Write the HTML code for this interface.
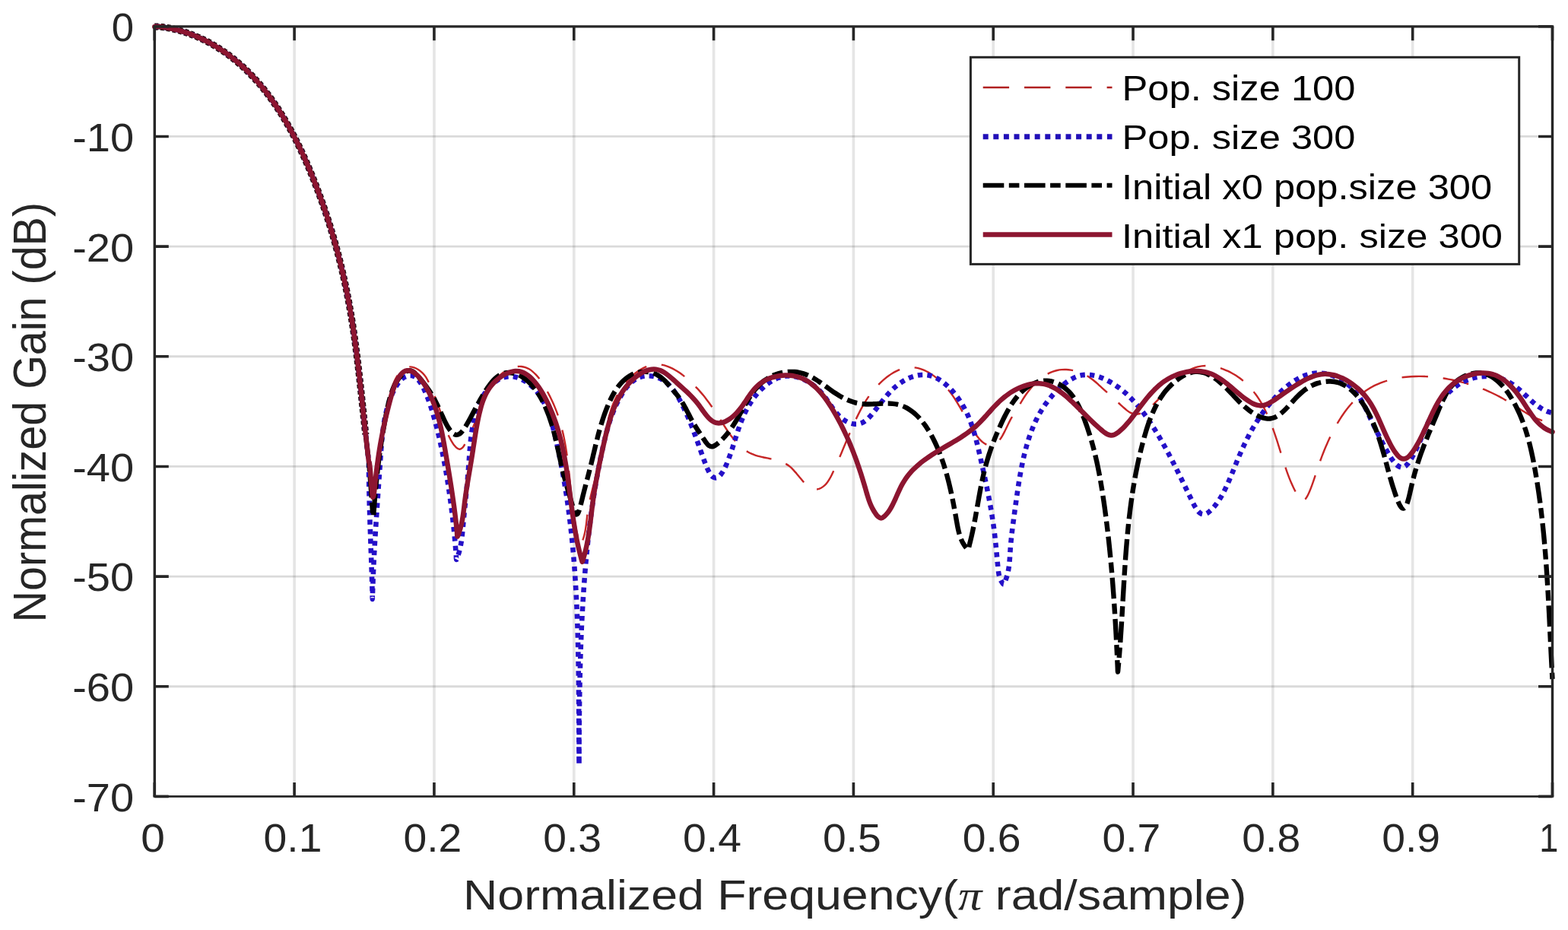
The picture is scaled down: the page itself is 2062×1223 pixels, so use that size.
<!DOCTYPE html>
<html><head><meta charset="utf-8"><title>Normalized Gain</title>
<style>html,body{margin:0;padding:0;background:#fff;} svg{display:block;}</style>
</head><body>
<svg width="2062" height="1223" viewBox="0 0 2062 1223" font-family="Liberation Sans, sans-serif" font-size="100">
<rect width="2062" height="1223" fill="#fff"/>
<path d="M387.12 34.80V1047.40M570.94 34.80V1047.40M754.76 34.80V1047.40M938.58 34.80V1047.40M1122.40 34.80V1047.40M1306.22 34.80V1047.40M1490.04 34.80V1047.40M1673.86 34.80V1047.40M1857.68 34.80V1047.40" stroke="#262626" stroke-opacity="0.12" stroke-width="3.6" fill="none"/>
<path d="M203.30 179.46H2041.50M203.30 324.11H2041.50M203.30 468.77H2041.50M203.30 613.43H2041.50M203.30 758.09H2041.50M203.30 902.74H2041.50" stroke="#262626" stroke-opacity="0.17" stroke-width="2.8" fill="none"/>
<g fill="none" stroke-linejoin="round">
<path d="M203.30 35.20C205.22 35.14 207.11 34.93 209.06 35.02C211.07 35.11 213.15 35.49 215.18 35.78C217.21 36.07 219.23 36.40 221.24 36.77C223.25 37.14 225.24 37.54 227.23 37.98C229.22 38.42 231.19 38.89 233.16 39.40C235.12 39.91 237.07 40.45 239.01 41.02C240.95 41.59 242.88 42.20 244.79 42.84C246.70 43.48 248.60 44.15 250.49 44.85C252.38 45.55 254.25 46.29 256.11 47.05C257.97 47.81 259.82 48.61 261.66 49.43C263.49 50.25 265.31 51.09 267.12 51.97C268.92 52.84 270.71 53.75 272.49 54.68C274.27 55.61 276.03 56.57 277.78 57.55C279.53 58.53 281.26 59.54 282.98 60.57C284.70 61.60 286.39 62.66 288.08 63.74C289.76 64.82 291.44 65.92 293.09 67.04C294.74 68.16 296.38 69.30 298.00 70.47C299.62 71.64 301.22 72.83 302.81 74.04C304.40 75.25 305.97 76.47 307.52 77.71C309.07 78.95 310.61 80.22 312.13 81.50C313.65 82.78 315.14 84.08 316.62 85.40C318.10 86.72 319.57 88.05 321.02 89.40C322.47 90.75 323.89 92.12 325.31 93.51C326.72 94.89 328.13 96.29 329.51 97.71C330.89 99.12 332.26 100.55 333.61 102.00C334.96 103.44 336.29 104.90 337.61 106.38C338.93 107.86 340.23 109.35 341.52 110.86C342.81 112.36 344.07 113.88 345.33 115.41C346.59 116.94 347.83 118.49 349.06 120.05C350.29 121.61 351.50 123.19 352.70 124.77C353.90 126.36 355.09 127.95 356.26 129.56C357.43 131.17 358.59 132.80 359.73 134.43C360.87 136.06 362.00 137.71 363.12 139.36C364.24 141.02 365.34 142.68 366.43 144.36C367.52 146.04 368.60 147.72 369.66 149.42C370.73 151.12 371.78 152.83 372.82 154.55C373.86 156.27 374.89 157.99 375.91 159.72C376.93 161.45 377.93 163.20 378.92 164.95C379.91 166.70 380.89 168.47 381.86 170.24C382.83 172.01 383.79 173.79 384.74 175.57C385.69 177.35 386.62 179.14 387.55 180.94C388.48 182.74 389.39 184.54 390.30 186.35C391.21 188.16 392.11 189.98 392.99 191.80C393.88 193.62 394.74 195.46 395.61 197.29C396.47 199.12 397.33 200.96 398.18 202.80C399.03 204.64 399.87 206.50 400.70 208.35C401.53 210.20 402.35 212.05 403.16 213.91C403.97 215.77 404.77 217.63 405.57 219.50C406.36 221.37 407.15 223.24 407.93 225.11C408.71 226.98 409.48 228.86 410.24 230.74C411.00 232.62 411.76 234.50 412.51 236.38C413.26 238.26 414.00 240.14 414.73 242.02C415.46 243.90 416.19 245.79 416.91 247.68C417.63 249.57 418.34 251.46 419.05 253.35C419.75 255.24 420.45 257.13 421.14 259.03C421.83 260.92 422.51 262.82 423.19 264.72C423.87 266.62 424.54 268.52 425.20 270.42C425.86 272.32 426.51 274.23 427.16 276.13C427.81 278.03 428.45 279.93 429.08 281.84C429.71 283.75 430.33 285.66 430.95 287.57C431.57 289.48 432.18 291.39 432.79 293.31C433.39 295.22 433.99 297.14 434.58 299.06C435.17 300.98 435.75 302.89 436.33 304.81C436.91 306.73 437.48 308.66 438.04 310.58C438.60 312.50 439.15 314.42 439.70 316.35C440.25 318.28 440.79 320.21 441.33 322.14C441.86 324.07 442.39 326.00 442.91 327.93C443.43 329.86 443.95 331.79 444.46 333.73C444.97 335.66 445.47 337.60 445.96 339.54C446.45 341.48 446.94 343.41 447.42 345.35C447.90 347.29 448.37 349.24 448.84 351.18C449.31 353.12 449.77 355.06 450.23 357.01C450.68 358.95 451.13 360.90 451.57 362.85C452.01 364.80 452.44 366.75 452.87 368.70C453.30 370.65 453.72 372.60 454.13 374.55C454.55 376.50 454.96 378.46 455.36 380.42C455.76 382.38 456.15 384.33 456.54 386.29C456.93 388.25 457.31 390.21 457.69 392.17C458.06 394.13 458.43 396.09 458.79 398.05C459.15 400.01 459.51 401.98 459.86 403.94C460.21 405.91 460.56 407.87 460.90 409.84C461.24 411.81 461.56 413.78 461.89 415.75C462.22 417.72 462.54 419.69 462.86 421.66C463.18 423.63 463.48 425.61 463.79 427.58C464.09 429.55 464.40 431.53 464.69 433.50C464.99 435.48 465.28 437.45 465.56 439.43C465.85 441.41 466.12 443.39 466.40 445.37C466.68 447.35 466.95 449.33 467.22 451.31C467.49 453.29 467.76 455.28 468.02 457.26C468.28 459.24 468.54 461.23 468.79 463.21C469.05 465.20 469.30 467.18 469.55 469.17C469.80 471.16 470.04 473.14 470.28 475.13C470.52 477.12 470.76 479.11 471.00 481.10C471.24 483.09 471.47 485.08 471.70 487.07C471.93 489.06 472.16 491.06 472.39 493.05C472.62 495.05 472.84 497.04 473.06 499.04C473.28 501.03 473.51 503.02 473.73 505.02C473.95 507.02 474.17 509.02 474.39 511.02C474.61 513.02 474.83 515.01 475.04 517.01C475.26 519.01 475.47 521.01 475.68 523.01C475.89 525.01 476.11 527.02 476.32 529.02C476.53 531.02 476.75 533.03 476.96 535.03C477.17 537.03 477.39 539.04 477.60 541.04C477.81 543.05 478.02 545.05 478.23 547.06C478.44 549.06 478.67 551.06 478.88 553.07C479.10 555.08 479.30 557.09 479.52 559.10C479.73 561.11 479.95 563.11 480.17 565.12C480.39 567.13 480.61 569.14 480.83 571.15" stroke="#2a0d14" stroke-width="9.2" stroke-dasharray="5 3"/>
<path d="M203.30 35.20C205.22 35.14 207.11 34.93 209.06 35.02C211.07 35.11 213.15 35.49 215.18 35.78C217.21 36.07 219.23 36.40 221.24 36.77C223.25 37.14 225.24 37.54 227.23 37.98C229.22 38.42 231.19 38.89 233.16 39.40C235.12 39.91 237.07 40.45 239.01 41.02C240.95 41.59 242.88 42.20 244.79 42.84C246.70 43.48 248.60 44.15 250.49 44.85C252.38 45.55 254.25 46.29 256.11 47.05C257.97 47.81 259.82 48.61 261.66 49.43C263.49 50.25 265.31 51.09 267.12 51.97C268.92 52.84 270.71 53.75 272.49 54.68C274.27 55.61 276.03 56.57 277.78 57.55C279.53 58.53 281.26 59.54 282.98 60.57C284.70 61.60 286.39 62.66 288.08 63.74C289.76 64.82 291.44 65.92 293.09 67.04C294.74 68.16 296.38 69.30 298.00 70.47C299.62 71.64 301.22 72.83 302.81 74.04C304.40 75.25 305.97 76.47 307.52 77.71C309.07 78.95 310.61 80.22 312.13 81.50C313.65 82.78 315.14 84.08 316.62 85.40C318.10 86.72 319.57 88.05 321.02 89.40C322.47 90.75 323.89 92.12 325.31 93.51C326.72 94.89 328.13 96.29 329.51 97.71C330.89 99.12 332.26 100.55 333.61 102.00C334.96 103.44 336.29 104.90 337.61 106.38C338.93 107.86 340.23 109.35 341.52 110.86C342.81 112.36 344.07 113.88 345.33 115.41C346.59 116.94 347.83 118.49 349.06 120.05C350.29 121.61 351.50 123.19 352.70 124.77C353.90 126.36 355.09 127.95 356.26 129.56C357.43 131.17 358.59 132.80 359.73 134.43C360.87 136.06 362.00 137.71 363.12 139.36C364.24 141.02 365.34 142.68 366.43 144.36C367.52 146.04 368.60 147.72 369.66 149.42C370.73 151.12 371.78 152.83 372.82 154.55C373.86 156.27 374.89 157.99 375.91 159.72C376.93 161.45 377.93 163.20 378.92 164.95C379.91 166.70 380.89 168.47 381.86 170.24C382.83 172.01 383.79 173.79 384.74 175.57C385.69 177.35 386.62 179.14 387.55 180.94C388.48 182.74 389.39 184.54 390.30 186.35C391.21 188.16 392.11 189.98 392.99 191.80C393.88 193.62 394.74 195.46 395.61 197.29C396.47 199.12 397.33 200.96 398.18 202.80C399.03 204.64 399.87 206.50 400.70 208.35C401.53 210.20 402.35 212.05 403.16 213.91C403.97 215.77 404.77 217.63 405.57 219.50C406.36 221.37 407.15 223.24 407.93 225.11C408.71 226.98 409.48 228.86 410.24 230.74C411.00 232.62 411.76 234.50 412.51 236.38C413.26 238.26 414.00 240.14 414.73 242.02C415.46 243.90 416.19 245.79 416.91 247.68C417.63 249.57 418.34 251.46 419.05 253.35C419.75 255.24 420.45 257.13 421.14 259.03C421.83 260.92 422.51 262.82 423.19 264.72C423.87 266.62 424.54 268.52 425.20 270.42C425.86 272.32 426.51 274.23 427.16 276.13C427.81 278.03 428.45 279.93 429.08 281.84C429.71 283.75 430.33 285.66 430.95 287.57C431.57 289.48 432.18 291.39 432.79 293.31C433.39 295.22 433.99 297.14 434.58 299.06C435.17 300.98 435.75 302.89 436.33 304.81C436.91 306.73 437.48 308.66 438.04 310.58C438.60 312.50 439.15 314.42 439.70 316.35C440.25 318.28 440.79 320.21 441.33 322.14C441.86 324.07 442.39 326.00 442.91 327.93C443.43 329.86 443.95 331.79 444.46 333.73C444.97 335.66 445.47 337.60 445.96 339.54C446.45 341.48 446.94 343.41 447.42 345.35C447.90 347.29 448.37 349.24 448.84 351.18C449.31 353.12 449.77 355.06 450.23 357.01C450.68 358.95 451.13 360.90 451.57 362.85C452.01 364.80 452.44 366.75 452.87 368.70C453.30 370.65 453.72 372.60 454.13 374.55C454.55 376.50 454.96 378.46 455.36 380.42C455.76 382.38 456.15 384.33 456.54 386.29C456.93 388.25 457.31 390.21 457.69 392.17C458.06 394.13 458.43 396.09 458.79 398.05C459.15 400.01 459.51 401.98 459.86 403.94C460.21 405.91 460.56 407.87 460.90 409.84C461.24 411.81 461.56 413.78 461.89 415.75C462.22 417.72 462.54 419.69 462.86 421.66C463.18 423.63 463.48 425.61 463.79 427.58C464.09 429.55 464.40 431.53 464.69 433.50C464.99 435.48 465.28 437.45 465.56 439.43C465.85 441.41 466.12 443.39 466.40 445.37C466.68 447.35 466.95 449.33 467.22 451.31C467.49 453.29 467.76 455.28 468.02 457.26C468.28 459.24 468.54 461.23 468.79 463.21C469.05 465.20 469.30 467.18 469.55 469.17C469.80 471.16 470.04 473.14 470.28 475.13C470.52 477.12 470.76 479.11 471.00 481.10C471.24 483.09 471.47 485.08 471.70 487.07C471.93 489.06 472.16 491.06 472.39 493.05C472.62 495.05 472.84 497.04 473.06 499.04C473.28 501.03 473.51 503.02 473.73 505.02C473.95 507.02 474.17 509.02 474.39 511.02C474.61 513.02 474.83 515.01 475.04 517.01C475.26 519.01 475.47 521.01 475.68 523.01C475.89 525.01 476.11 527.02 476.32 529.02C476.53 531.02 476.75 533.03 476.96 535.03C477.17 537.03 477.39 539.04 477.60 541.04C477.81 543.05 478.02 545.05 478.23 547.06C478.44 549.06 478.67 551.06 478.88 553.07C479.10 555.08 479.30 557.09 479.52 559.10C479.73 561.11 479.95 563.11 480.17 565.12C480.39 567.13 480.61 569.14 480.83 571.15C481.05 573.16 481.28 575.17 481.50 577.18C481.73 579.19 481.95 581.21 482.18 583.22C482.41 585.23 482.65 587.25 482.88 589.26C483.11 591.27 483.34 593.29 483.58 595.30C483.82 597.31 484.07 599.36 484.31 601.34C484.54 603.26 484.74 606.98 485.00 607.00C485.17 607.01 485.37 604.78 485.54 604.79C485.74 604.80 485.94 606.68 486.11 607.95C486.36 609.82 486.51 612.46 486.70 614.97C486.92 617.86 487.11 621.14 487.32 624.32C487.53 627.63 487.74 631.15 487.96 634.47C488.17 637.67 488.38 640.98 488.62 643.91C488.83 646.47 489.02 649.15 489.31 651.11C489.52 652.47 489.72 654.51 490.02 654.55C490.23 654.58 490.55 653.68 490.76 653.00C491.12 651.83 491.27 649.79 491.51 648.05C491.78 646.13 492.03 644.04 492.29 641.97C492.56 639.82 492.82 637.58 493.09 635.38C493.36 633.16 493.63 630.91 493.91 628.70C494.18 626.53 494.46 624.37 494.75 622.23C495.03 620.12 495.32 618.03 495.61 615.96C495.90 613.92 496.19 611.89 496.49 609.88C496.79 607.89 497.09 605.91 497.39 603.94C497.69 601.99 498.00 600.05 498.31 598.12C498.62 596.20 498.93 594.29 499.25 592.39C499.56 590.50 499.88 588.61 500.20 586.73C500.52 584.85 500.85 582.98 501.18 581.10C501.51 579.22 501.84 577.35 502.17 575.47C502.50 573.59 502.84 571.71 503.18 569.82C503.52 567.92 503.86 566.03 504.20 564.12C504.55 562.20 504.90 560.27 505.25 558.33C505.60 556.37 505.95 554.41 506.30 552.43C506.66 550.43 507.02 548.42 507.38 546.39C507.74 544.33 508.10 542.26 508.47 540.18C508.84 538.08 509.21 535.98 509.61 533.87C510.01 531.75 510.41 529.62 510.85 527.51C511.29 525.40 511.74 523.29 512.24 521.21C512.73 519.14 513.25 517.07 513.82 515.04C514.38 513.03 514.98 511.04 515.64 509.09C516.29 507.17 516.98 505.28 517.75 503.44C518.50 501.64 519.30 499.87 520.19 498.18C521.06 496.52 521.99 494.90 523.02 493.38C524.03 491.89 525.10 490.44 526.28 489.13C527.43 487.85 528.66 486.61 530.01 485.62C531.33 484.65 532.76 483.78 534.28 483.23C535.80 482.68 537.45 482.34 539.11 482.34C540.87 482.34 542.76 482.73 544.56 483.33C546.51 483.98 548.50 485.05 550.34 486.22C552.24 487.44 554.12 488.94 555.75 490.55C557.37 492.15 558.82 493.98 560.07 495.85C561.29 497.68 562.22 499.69 563.18 501.64C564.12 503.55 564.92 505.51 565.76 507.43C566.59 509.31 567.39 511.17 568.19 513.03C568.97 514.86 569.75 516.67 570.50 518.48C571.25 520.27 571.98 522.04 572.69 523.82C573.40 525.59 574.09 527.36 574.77 529.14C575.45 530.92 576.10 532.69 576.75 534.48C577.40 536.28 578.03 538.08 578.65 539.90C579.27 541.74 579.87 543.60 580.46 545.47C581.06 547.37 581.63 549.29 582.22 551.21C582.82 553.15 583.41 555.10 584.04 557.04C584.67 559.00 585.30 560.97 585.99 562.92C586.68 564.88 587.40 566.85 588.19 568.78C588.98 570.72 589.81 572.65 590.73 574.54C591.65 576.44 592.63 578.34 593.71 580.16C594.78 581.97 595.91 583.84 597.17 585.41C598.34 586.87 599.57 588.44 600.94 589.34C602.12 590.11 603.52 590.86 604.75 590.74C606.00 590.62 607.28 589.61 608.36 588.58C609.65 587.34 610.66 585.33 611.69 583.51C612.80 581.55 613.76 579.28 614.76 577.20C615.73 575.17 616.68 573.13 617.61 571.15C618.51 569.25 619.39 567.42 620.25 565.57C621.10 563.75 621.92 561.94 622.73 560.12C623.53 558.32 624.29 556.53 625.06 554.73C625.82 552.94 626.57 551.15 627.32 549.36C628.06 547.58 628.79 545.79 629.53 544.01C630.27 542.22 631.00 540.44 631.75 538.65C632.50 536.86 633.26 535.07 634.03 533.28C634.81 531.48 635.60 529.68 636.41 527.88C637.23 526.06 638.06 524.25 638.93 522.43C639.81 520.59 640.71 518.75 641.65 516.92C642.60 515.07 643.58 513.21 644.61 511.39C645.65 509.56 646.72 507.73 647.85 505.96C648.98 504.19 650.15 502.45 651.40 500.78C652.64 499.12 653.93 497.49 655.30 495.97C656.66 494.46 658.09 493.00 659.60 491.67C661.10 490.35 662.68 489.11 664.33 488.01C665.97 486.92 667.69 485.93 669.45 485.11C671.19 484.29 673.01 483.60 674.83 483.08C676.62 482.57 678.46 482.18 680.29 481.99C682.09 481.81 683.93 481.78 685.71 481.96C687.47 482.14 689.23 482.51 690.91 483.07C692.60 483.63 694.24 484.42 695.80 485.32C697.40 486.24 698.93 487.37 700.39 488.57C701.89 489.80 703.32 491.19 704.69 492.63C706.09 494.11 707.43 495.70 708.71 497.34C710.02 499.00 711.26 500.76 712.46 502.54C713.67 504.33 714.83 506.18 715.95 508.04C717.07 509.90 718.15 511.80 719.19 513.69C720.22 515.56 721.22 517.45 722.19 519.33C723.15 521.20 724.07 523.07 724.97 524.94C725.86 526.80 726.72 528.66 727.54 530.53C728.36 532.38 729.14 534.24 729.90 536.11C730.65 537.96 731.38 539.82 732.07 541.69C732.76 543.54 733.42 545.40 734.05 547.27C734.68 549.13 735.29 551.00 735.87 552.88C736.45 554.75 737.00 556.63 737.53 558.51C738.06 560.39 738.56 562.28 739.04 564.17C739.52 566.07 739.98 567.97 740.42 569.88C740.86 571.79 741.27 573.71 741.67 575.63C742.07 577.55 742.44 579.49 742.80 581.42C743.16 583.36 743.51 585.30 743.84 587.25C744.17 589.20 744.48 591.15 744.78 593.11C745.08 595.07 745.37 597.03 745.64 599.00C745.92 600.97 746.18 602.94 746.43 604.92C746.68 606.90 746.93 608.88 747.16 610.86C747.40 612.84 747.62 614.83 747.84 616.82C748.06 618.81 748.28 620.80 748.49 622.79C748.70 624.78 748.91 626.78 749.11 628.78C749.32 630.78 749.52 632.79 749.72 634.79C749.92 636.79 750.13 638.79 750.33 640.79C750.53 642.79 750.73 644.80 750.94 646.80C751.15 648.80 751.35 650.81 751.57 652.81C751.79 654.81 752.01 656.82 752.24 658.82C752.47 660.82 752.70 662.82 752.94 664.82C753.18 666.82 753.44 668.82 753.70 670.82C753.96 672.81 754.23 674.80 754.52 676.79C754.81 678.78 755.11 680.77 755.42 682.76C755.73 684.74 756.06 686.72 756.40 688.70C756.74 690.68 757.10 692.65 757.48 694.62C757.86 696.59 758.25 698.55 758.67 700.51C759.09 702.47 759.52 704.43 759.98 706.38C760.44 708.33 760.92 710.27 761.42 712.21C761.92 714.15 762.31 717.94 763.00 718.00C763.69 718.06 764.80 714.35 765.55 712.49C766.29 710.66 766.92 708.80 767.49 706.93C768.05 705.08 768.52 703.20 768.94 701.32C769.36 699.45 769.70 697.56 770.02 695.67C770.34 693.78 770.59 691.88 770.84 689.98C771.09 688.07 771.30 686.16 771.52 684.24C771.75 682.32 771.95 680.40 772.19 678.47C772.43 676.53 772.67 674.59 772.96 672.65C773.25 670.70 773.57 668.76 773.91 666.81C774.26 664.85 774.63 662.89 775.03 660.93C775.43 658.96 775.86 656.99 776.30 655.02C776.74 653.04 777.21 651.07 777.69 649.09C778.17 647.10 778.66 645.12 779.16 643.13C779.66 641.13 780.18 639.14 780.70 637.14C781.22 635.14 781.75 633.14 782.27 631.14C782.79 629.13 783.32 627.12 783.84 625.11C784.36 623.10 784.88 621.09 785.39 619.07C785.90 617.05 786.40 615.03 786.89 613.01C787.38 610.99 787.85 608.97 788.31 606.94C788.77 604.92 789.20 602.89 789.63 600.86C790.06 598.83 790.47 596.80 790.87 594.77C791.27 592.75 791.66 590.72 792.05 588.70C792.44 586.68 792.82 584.66 793.20 582.65C793.58 580.64 793.96 578.63 794.35 576.62C794.74 574.62 795.12 572.62 795.52 570.63C795.92 568.64 796.32 566.66 796.74 564.68C797.16 562.71 797.59 560.75 798.04 558.80C798.49 556.85 798.95 554.91 799.44 552.98C799.93 551.05 800.43 549.14 800.97 547.23C801.51 545.33 802.07 543.44 802.66 541.57C803.25 539.70 803.86 537.85 804.52 536.01C805.18 534.17 805.87 532.35 806.60 530.55C807.33 528.75 808.10 526.97 808.91 525.21C809.72 523.45 810.58 521.71 811.48 519.99C812.39 518.27 813.34 516.58 814.34 514.91C815.35 513.23 816.41 511.58 817.52 509.96C818.64 508.33 819.80 506.74 821.03 505.18C822.27 503.61 823.56 502.06 824.91 500.56C826.27 499.05 827.68 497.57 829.14 496.16C830.60 494.75 832.11 493.38 833.67 492.09C835.23 490.80 836.84 489.56 838.49 488.41C840.13 487.27 841.81 486.20 843.53 485.24C845.24 484.29 846.99 483.40 848.77 482.65C850.53 481.91 852.34 481.25 854.16 480.74C855.97 480.23 857.82 479.83 859.68 479.59C861.53 479.35 863.41 479.25 865.27 479.30C867.15 479.35 869.04 479.57 870.90 479.92C872.79 480.27 874.67 480.79 876.53 481.40C878.42 482.02 880.29 482.78 882.13 483.61C884.00 484.46 885.84 485.42 887.65 486.45C889.48 487.49 891.28 488.63 893.05 489.82C894.83 491.02 896.58 492.30 898.30 493.61C900.02 494.93 901.71 496.31 903.36 497.71C905.01 499.11 906.62 500.56 908.19 502.02C909.75 503.47 911.27 504.95 912.75 506.43C914.21 507.89 915.64 509.37 917.03 510.86C918.40 512.34 919.74 513.83 921.05 515.34C922.35 516.83 923.62 518.33 924.86 519.85C926.09 521.36 927.30 522.88 928.48 524.41C929.66 525.94 930.80 527.48 931.94 529.03C933.07 530.58 934.19 532.15 935.29 533.72C936.39 535.29 937.47 536.88 938.55 538.47C939.63 540.07 940.70 541.68 941.76 543.30C942.83 544.93 943.88 546.57 944.94 548.22C946.01 549.88 947.07 551.55 948.14 553.23C949.22 554.92 950.30 556.63 951.39 558.33C952.49 560.04 953.58 561.77 954.71 563.47C955.84 565.18 956.98 566.89 958.15 568.57C959.32 570.25 960.51 571.91 961.74 573.54C962.96 575.16 964.21 576.78 965.50 578.33C966.79 579.87 968.11 581.39 969.48 582.84C970.84 584.28 972.25 585.69 973.71 587.01C975.16 588.32 976.65 589.59 978.21 590.76C979.76 591.92 981.37 593.02 983.03 594.01C984.69 595.00 986.42 595.90 988.19 596.69C989.97 597.49 991.83 598.16 993.70 598.77C995.59 599.39 997.53 599.90 999.48 600.39C1001.44 600.89 1003.44 601.30 1005.43 601.73C1007.43 602.16 1009.44 602.54 1011.44 602.96C1013.43 603.38 1015.43 603.79 1017.40 604.27C1019.36 604.75 1021.32 605.23 1023.23 605.82C1025.12 606.40 1027.00 607.03 1028.81 607.79C1030.61 608.54 1032.38 609.37 1034.05 610.35C1035.72 611.33 1037.32 612.46 1038.84 613.69C1040.38 614.94 1041.80 616.35 1043.20 617.80C1044.63 619.28 1045.96 620.88 1047.32 622.48C1048.70 624.11 1050.03 625.82 1051.42 627.49C1052.82 629.19 1054.22 630.94 1055.69 632.59C1057.16 634.24 1058.65 635.93 1060.24 637.38C1061.76 638.78 1063.34 640.18 1065.01 641.18C1066.58 642.12 1068.25 642.94 1069.93 643.31C1071.54 643.66 1073.27 643.68 1074.88 643.43C1076.51 643.18 1078.15 642.56 1079.66 641.79C1081.21 641.00 1082.70 639.90 1084.05 638.70C1085.44 637.47 1086.69 635.99 1087.86 634.47C1089.06 632.91 1090.13 631.18 1091.15 629.43C1092.19 627.65 1093.12 625.75 1094.05 623.87C1094.99 621.98 1095.86 620.03 1096.74 618.11C1097.62 616.20 1098.47 614.28 1099.32 612.37C1100.16 610.47 1101.00 608.57 1101.82 606.68C1102.64 604.79 1103.45 602.91 1104.25 601.03C1105.05 599.16 1105.84 597.29 1106.63 595.42C1107.42 593.56 1108.20 591.70 1108.98 589.84C1109.75 587.99 1110.52 586.14 1111.29 584.30C1112.06 582.46 1112.83 580.63 1113.60 578.80C1114.37 576.97 1115.14 575.15 1115.91 573.33C1116.68 571.51 1117.46 569.69 1118.24 567.88C1119.02 566.07 1119.81 564.27 1120.60 562.47C1121.39 560.67 1122.19 558.86 1123.00 557.07C1123.81 555.28 1124.63 553.49 1125.47 551.71C1126.31 549.93 1127.15 548.15 1128.02 546.38C1128.89 544.61 1129.76 542.84 1130.67 541.09C1131.58 539.34 1132.50 537.60 1133.46 535.88C1134.42 534.15 1135.40 532.44 1136.41 530.74C1137.42 529.04 1138.46 527.35 1139.54 525.69C1140.62 524.02 1141.73 522.37 1142.88 520.75C1144.03 519.12 1145.22 517.51 1146.45 515.93C1147.69 514.34 1148.96 512.77 1150.28 511.24C1151.61 509.70 1152.97 508.18 1154.39 506.70C1155.82 505.21 1157.29 503.75 1158.81 502.33C1160.34 500.90 1161.92 499.50 1163.54 498.16C1165.16 496.82 1166.82 495.52 1168.53 494.30C1170.23 493.08 1171.98 491.91 1173.76 490.84C1175.52 489.78 1177.32 488.78 1179.15 487.90C1180.96 487.03 1182.82 486.23 1184.69 485.57C1186.54 484.92 1188.41 484.35 1190.30 483.95C1192.17 483.55 1194.07 483.27 1195.96 483.15C1197.84 483.03 1199.74 483.08 1201.62 483.25C1203.50 483.42 1205.38 483.75 1207.23 484.19C1209.10 484.63 1210.95 485.22 1212.77 485.89C1214.60 486.57 1216.41 487.37 1218.18 488.25C1219.97 489.14 1221.72 490.13 1223.44 491.18C1225.17 492.24 1226.86 493.39 1228.51 494.60C1230.16 495.81 1231.77 497.10 1233.34 498.43C1234.90 499.76 1236.43 501.14 1237.90 502.56C1239.37 503.97 1240.79 505.43 1242.16 506.91C1243.52 508.38 1244.83 509.89 1246.10 511.42C1247.37 512.94 1248.58 514.50 1249.77 516.08C1250.96 517.66 1252.10 519.26 1253.22 520.88C1254.34 522.50 1255.41 524.14 1256.47 525.80C1257.53 527.46 1258.57 529.14 1259.59 530.83C1260.61 532.52 1261.61 534.23 1262.60 535.95C1263.60 537.68 1264.58 539.41 1265.56 541.16C1266.55 542.91 1267.52 544.68 1268.50 546.45C1269.49 548.23 1270.47 550.01 1271.47 551.79C1272.47 553.58 1273.48 555.38 1274.51 557.18C1275.55 558.99 1276.59 560.80 1277.67 562.60C1278.75 564.41 1279.85 566.23 1280.99 567.99C1282.12 569.73 1283.27 571.46 1284.49 573.09C1285.68 574.68 1286.90 576.23 1288.20 577.64C1289.45 578.99 1290.75 580.30 1292.14 581.39C1293.47 582.43 1294.87 583.40 1296.35 584.08C1297.78 584.74 1299.32 585.25 1300.85 585.43C1302.37 585.61 1303.99 585.55 1305.50 585.18C1307.06 584.79 1308.64 584.05 1310.04 583.08C1311.56 582.03 1312.93 580.52 1314.22 578.96C1315.61 577.28 1316.84 575.28 1318.03 573.29C1319.27 571.22 1320.39 568.95 1321.51 566.75C1322.63 564.54 1323.69 562.24 1324.75 560.05C1325.77 557.95 1326.75 555.82 1327.78 553.87C1328.73 552.06 1329.70 550.36 1330.68 548.72C1331.61 547.16 1332.57 545.73 1333.51 544.25C1334.45 542.78 1335.39 541.37 1336.32 539.88C1337.28 538.34 1338.22 536.76 1339.18 535.16C1340.16 533.51 1341.13 531.82 1342.14 530.13C1343.16 528.41 1344.20 526.66 1345.27 524.94C1346.35 523.20 1347.46 521.45 1348.62 519.75C1349.78 518.04 1350.99 516.35 1352.24 514.70C1353.49 513.05 1354.77 511.42 1356.11 509.85C1357.44 508.28 1358.83 506.75 1360.25 505.27C1361.67 503.80 1363.12 502.37 1364.63 501.01C1366.13 499.66 1367.68 498.37 1369.27 497.16C1370.85 495.96 1372.48 494.81 1374.15 493.76C1375.81 492.72 1377.53 491.76 1379.28 490.90C1381.02 490.05 1382.81 489.27 1384.64 488.62C1386.47 487.97 1388.34 487.42 1390.24 487.00C1392.15 486.58 1394.10 486.27 1396.07 486.10C1398.06 485.93 1400.10 485.90 1402.12 485.98C1404.16 486.06 1406.23 486.28 1408.26 486.59C1410.30 486.91 1412.35 487.34 1414.35 487.87C1416.34 488.39 1418.33 489.02 1420.24 489.74C1422.13 490.45 1423.99 491.26 1425.77 492.14C1427.52 493.01 1429.21 493.97 1430.84 494.99C1432.46 496.00 1434.00 497.09 1435.52 498.22C1437.04 499.35 1438.50 500.55 1439.96 501.77C1441.43 503.00 1442.85 504.28 1444.29 505.56C1445.75 506.86 1447.19 508.19 1448.65 509.52C1450.13 510.87 1451.62 512.23 1453.12 513.60C1454.64 514.98 1456.16 516.38 1457.69 517.78C1459.24 519.20 1460.80 520.62 1462.36 522.05C1463.93 523.49 1465.51 524.93 1467.09 526.37C1468.68 527.82 1470.27 529.28 1471.87 530.74C1473.47 532.20 1475.07 533.69 1476.69 535.13C1478.29 536.55 1479.87 538.05 1481.52 539.33C1483.10 540.56 1484.69 541.80 1486.35 542.68C1487.91 543.50 1489.53 544.20 1491.16 544.52C1492.73 544.82 1494.37 544.81 1495.95 544.60C1497.55 544.39 1499.14 543.86 1500.69 543.24C1502.29 542.60 1503.87 541.73 1505.40 540.80C1506.99 539.84 1508.53 538.72 1510.05 537.55C1511.61 536.35 1513.13 535.03 1514.64 533.69C1516.18 532.32 1517.68 530.86 1519.17 529.39C1520.68 527.90 1522.16 526.36 1523.64 524.81C1525.13 523.25 1526.59 521.66 1528.06 520.07C1529.53 518.47 1530.99 516.85 1532.45 515.24C1533.91 513.63 1535.37 512.01 1536.84 510.42C1538.31 508.83 1539.77 507.25 1541.26 505.70C1542.74 504.16 1544.22 502.63 1545.73 501.15C1547.22 499.68 1548.73 498.24 1550.27 496.86C1551.79 495.50 1553.34 494.17 1554.92 492.92C1556.48 491.69 1558.06 490.51 1559.68 489.42C1561.28 488.35 1562.92 487.33 1564.60 486.43C1566.26 485.54 1567.95 484.73 1569.69 484.05C1571.42 483.37 1573.19 482.80 1574.98 482.35C1576.77 481.90 1578.61 481.58 1580.45 481.36C1582.30 481.14 1584.18 481.04 1586.06 481.04C1587.95 481.04 1589.87 481.14 1591.77 481.34C1593.69 481.54 1595.61 481.84 1597.52 482.22C1599.44 482.60 1601.36 483.09 1603.26 483.64C1605.17 484.20 1607.08 484.84 1608.96 485.55C1610.85 486.27 1612.73 487.06 1614.57 487.92C1616.42 488.78 1618.24 489.72 1620.03 490.71C1621.82 491.70 1623.59 492.75 1625.31 493.86C1627.03 494.96 1628.71 496.13 1630.35 497.34C1631.98 498.55 1633.57 499.81 1635.11 501.11C1636.64 502.40 1638.12 503.74 1639.56 505.12C1640.99 506.50 1642.38 507.92 1643.73 509.38C1645.07 510.83 1646.37 512.32 1647.62 513.85C1648.87 515.37 1650.08 516.94 1651.25 518.53C1652.42 520.12 1653.56 521.74 1654.65 523.39C1655.75 525.04 1656.80 526.72 1657.82 528.42C1658.84 530.13 1659.83 531.86 1660.78 533.61C1661.74 535.37 1662.66 537.15 1663.55 538.94C1664.45 540.74 1665.31 542.55 1666.15 544.38C1666.99 546.21 1667.80 548.07 1668.59 549.93C1669.38 551.80 1670.15 553.68 1670.90 555.57C1671.65 557.47 1672.37 559.38 1673.08 561.29C1673.79 563.20 1674.47 565.12 1675.15 567.05C1675.83 568.98 1676.49 570.92 1677.14 572.86C1677.79 574.80 1678.43 576.74 1679.06 578.69C1679.69 580.63 1680.30 582.58 1680.91 584.53C1681.52 586.47 1682.13 588.42 1682.74 590.36C1683.34 592.30 1683.94 594.24 1684.54 596.17C1685.14 598.09 1685.73 600.02 1686.33 601.93C1686.93 603.84 1687.53 605.74 1688.14 607.64C1688.74 609.52 1689.35 611.40 1689.97 613.27C1690.59 615.13 1691.22 616.99 1691.87 618.84C1692.52 620.68 1693.18 622.52 1693.86 624.35C1694.54 626.19 1695.24 628.02 1695.97 629.84C1696.70 631.67 1697.47 633.49 1698.26 635.31C1699.06 637.14 1699.88 638.98 1700.74 640.80C1701.61 642.65 1702.52 644.49 1703.47 646.32C1704.43 648.18 1705.41 650.11 1706.47 651.88C1707.50 653.59 1708.48 655.61 1709.73 656.78C1710.75 657.74 1712.01 658.76 1713.14 658.72C1714.29 658.68 1715.53 657.50 1716.56 656.45C1717.82 655.16 1718.83 653.13 1719.83 651.27C1720.91 649.26 1721.85 646.93 1722.76 644.76C1723.64 642.64 1724.45 640.48 1725.21 638.41C1725.93 636.45 1726.59 634.55 1727.23 632.66C1727.85 630.84 1728.42 629.06 1729.00 627.27C1729.58 625.50 1730.14 623.74 1730.72 621.97C1731.31 620.18 1731.90 618.38 1732.51 616.57C1733.12 614.75 1733.75 612.91 1734.39 611.08C1735.04 609.23 1735.70 607.38 1736.38 605.52C1737.06 603.65 1737.76 601.77 1738.47 599.90C1739.19 598.01 1739.92 596.12 1740.67 594.24C1741.42 592.35 1742.20 590.46 1742.99 588.57C1743.78 586.68 1744.59 584.78 1745.42 582.90C1746.25 581.01 1747.11 579.13 1747.98 577.26C1748.86 575.38 1749.75 573.51 1750.67 571.65C1751.59 569.79 1752.53 567.95 1753.49 566.12C1754.45 564.29 1755.43 562.46 1756.44 560.66C1757.45 558.86 1758.48 557.08 1759.54 555.31C1760.60 553.55 1761.67 551.79 1762.78 550.07C1763.88 548.35 1765.02 546.65 1766.18 544.98C1767.34 543.32 1768.52 541.67 1769.73 540.06C1770.94 538.45 1772.17 536.86 1773.44 535.31C1774.70 533.76 1776.00 532.24 1777.32 530.76C1778.64 529.29 1779.98 527.84 1781.36 526.44C1782.74 525.04 1784.15 523.67 1785.59 522.35C1787.02 521.04 1788.48 519.76 1789.98 518.53C1791.48 517.30 1793.01 516.11 1794.57 514.98C1796.13 513.85 1797.72 512.77 1799.34 511.74C1800.96 510.71 1802.62 509.73 1804.30 508.81C1805.98 507.88 1807.70 507.01 1809.44 506.19C1811.18 505.36 1812.95 504.59 1814.74 503.86C1816.54 503.13 1818.36 502.46 1820.20 501.83C1822.04 501.20 1823.91 500.62 1825.79 500.08C1827.68 499.54 1829.58 499.05 1831.50 498.60C1833.43 498.15 1835.37 497.74 1837.32 497.38C1839.28 497.02 1841.26 496.70 1843.24 496.42C1845.23 496.14 1847.23 495.90 1849.24 495.70C1851.25 495.50 1853.27 495.34 1855.30 495.21C1857.33 495.08 1859.38 494.99 1861.42 494.94C1863.47 494.89 1865.53 494.87 1867.58 494.89C1869.64 494.91 1871.70 494.97 1873.76 495.05C1875.83 495.14 1877.90 495.25 1879.96 495.40C1882.03 495.55 1884.09 495.73 1886.15 495.94C1888.21 496.15 1890.27 496.39 1892.32 496.66C1894.37 496.93 1896.43 497.22 1898.47 497.54C1900.51 497.86 1902.54 498.21 1904.57 498.58C1906.59 498.95 1908.61 499.35 1910.61 499.77C1912.61 500.19 1914.60 500.63 1916.58 501.10C1918.55 501.56 1920.51 502.05 1922.46 502.56C1924.40 503.07 1926.33 503.59 1928.24 504.14C1930.14 504.69 1932.04 505.25 1933.92 505.84C1935.79 506.42 1937.64 507.02 1939.49 507.65C1941.33 508.27 1943.16 508.92 1944.98 509.59C1946.79 510.26 1948.60 510.95 1950.39 511.66C1952.18 512.37 1953.96 513.11 1955.73 513.87C1957.50 514.63 1959.26 515.41 1961.01 516.22C1962.77 517.03 1964.52 517.87 1966.26 518.73C1968.01 519.59 1969.74 520.48 1971.47 521.39C1973.21 522.31 1974.94 523.25 1976.66 524.22C1978.39 525.19 1980.12 526.20 1981.84 527.22C1983.58 528.25 1985.31 529.31 1987.03 530.39C1988.77 531.48 1990.49 532.60 1992.22 533.71C1993.96 534.83 1995.70 535.97 1997.45 537.09C1999.20 538.21 2000.95 539.33 2002.71 540.43C2004.47 541.52 2006.23 542.62 2008.01 543.66C2009.79 544.70 2011.57 545.72 2013.38 546.68C2015.18 547.63 2016.99 548.55 2018.82 549.39C2020.64 550.23 2022.48 551.02 2024.34 551.72C2026.19 552.42 2028.06 553.05 2029.95 553.58C2031.83 554.10 2033.75 554.55 2035.67 554.87C2037.60 555.19 2039.56 555.29 2041.50 555.50" stroke="#c62626" stroke-width="2.4" stroke-linecap="butt" stroke-dasharray="34.4 19.9"/>
<path d="M203.30 35.20C205.22 35.14 207.11 34.93 209.06 35.02C211.07 35.11 213.15 35.49 215.18 35.78C217.21 36.07 219.23 36.40 221.24 36.77C223.25 37.14 225.24 37.54 227.23 37.98C229.22 38.42 231.19 38.89 233.16 39.40C235.12 39.91 237.07 40.45 239.01 41.02C240.95 41.59 242.88 42.20 244.79 42.84C246.70 43.48 248.60 44.15 250.49 44.85C252.38 45.55 254.25 46.29 256.11 47.05C257.97 47.81 259.82 48.61 261.66 49.43C263.49 50.25 265.31 51.09 267.12 51.97C268.92 52.84 270.71 53.75 272.49 54.68C274.27 55.61 276.03 56.57 277.78 57.55C279.53 58.53 281.26 59.54 282.98 60.57C284.70 61.60 286.39 62.66 288.08 63.74C289.76 64.82 291.44 65.92 293.09 67.04C294.74 68.16 296.38 69.30 298.00 70.47C299.62 71.64 301.22 72.83 302.81 74.04C304.40 75.25 305.97 76.47 307.52 77.71C309.07 78.95 310.61 80.22 312.13 81.50C313.65 82.78 315.14 84.08 316.62 85.40C318.10 86.72 319.57 88.05 321.02 89.40C322.47 90.75 323.89 92.12 325.31 93.51C326.72 94.89 328.13 96.29 329.51 97.71C330.89 99.12 332.26 100.55 333.61 102.00C334.96 103.44 336.29 104.90 337.61 106.38C338.93 107.86 340.23 109.35 341.52 110.86C342.81 112.36 344.07 113.88 345.33 115.41C346.59 116.94 347.83 118.49 349.06 120.05C350.29 121.61 351.50 123.19 352.70 124.77C353.90 126.36 355.09 127.95 356.26 129.56C357.43 131.17 358.59 132.80 359.73 134.43C360.87 136.06 362.00 137.71 363.12 139.36C364.24 141.02 365.34 142.68 366.43 144.36C367.52 146.04 368.60 147.72 369.66 149.42C370.73 151.12 371.78 152.83 372.82 154.55C373.86 156.27 374.89 157.99 375.91 159.72C376.93 161.45 377.93 163.20 378.92 164.95C379.91 166.70 380.89 168.47 381.86 170.24C382.83 172.01 383.79 173.79 384.74 175.57C385.69 177.35 386.62 179.14 387.55 180.94C388.48 182.74 389.39 184.54 390.30 186.35C391.21 188.16 392.11 189.98 392.99 191.80C393.88 193.62 394.74 195.46 395.61 197.29C396.47 199.12 397.33 200.96 398.18 202.80C399.03 204.64 399.87 206.50 400.70 208.35C401.53 210.20 402.35 212.05 403.16 213.91C403.97 215.77 404.77 217.63 405.57 219.50C406.36 221.37 407.15 223.24 407.93 225.11C408.71 226.98 409.48 228.86 410.24 230.74C411.00 232.62 411.76 234.50 412.51 236.38C413.26 238.26 414.00 240.14 414.73 242.02C415.46 243.90 416.19 245.79 416.91 247.68C417.63 249.57 418.34 251.46 419.05 253.35C419.75 255.24 420.45 257.13 421.14 259.03C421.83 260.92 422.51 262.82 423.19 264.72C423.87 266.62 424.54 268.52 425.20 270.42C425.86 272.32 426.51 274.23 427.16 276.13C427.81 278.03 428.45 279.93 429.08 281.84C429.71 283.75 430.33 285.66 430.95 287.57C431.57 289.48 432.18 291.39 432.79 293.31C433.39 295.22 433.99 297.14 434.58 299.06C435.17 300.98 435.75 302.89 436.33 304.81C436.91 306.73 437.48 308.66 438.04 310.58C438.60 312.50 439.15 314.42 439.70 316.35C440.25 318.28 440.79 320.21 441.33 322.14C441.86 324.07 442.39 326.00 442.91 327.93C443.43 329.86 443.95 331.79 444.46 333.73C444.97 335.66 445.47 337.60 445.96 339.54C446.45 341.48 446.94 343.41 447.42 345.35C447.90 347.29 448.37 349.24 448.84 351.18C449.31 353.12 449.77 355.06 450.23 357.01C450.68 358.95 451.13 360.90 451.57 362.85C452.01 364.80 452.44 366.75 452.87 368.70C453.30 370.65 453.72 372.60 454.13 374.55C454.55 376.50 454.96 378.46 455.36 380.42C455.76 382.38 456.15 384.33 456.54 386.29C456.93 388.25 457.31 390.21 457.69 392.17C458.06 394.13 458.43 396.09 458.79 398.05C459.15 400.01 459.51 401.98 459.86 403.94C460.21 405.91 460.56 407.87 460.90 409.84C461.24 411.81 461.56 413.78 461.89 415.75C462.22 417.72 462.54 419.69 462.86 421.66C463.18 423.63 463.48 425.61 463.79 427.58C464.09 429.55 464.40 431.53 464.69 433.50C464.99 435.48 465.28 437.45 465.56 439.43C465.85 441.41 466.12 443.39 466.40 445.37C466.68 447.35 466.95 449.33 467.22 451.31C467.49 453.29 467.76 455.28 468.02 457.26C468.28 459.24 468.54 461.23 468.79 463.21C469.05 465.20 469.30 467.18 469.55 469.17C469.80 471.16 470.04 473.14 470.28 475.13C470.52 477.12 470.76 479.11 471.00 481.10C471.24 483.09 471.47 485.08 471.70 487.07C471.93 489.06 472.16 491.06 472.39 493.05C472.62 495.05 472.84 497.04 473.06 499.04C473.28 501.03 473.51 503.02 473.73 505.02C473.95 507.02 474.17 509.02 474.39 511.02C474.61 513.02 474.83 515.01 475.04 517.01C475.26 519.01 475.47 521.01 475.68 523.01C475.89 525.01 476.11 527.02 476.32 529.02C476.53 531.02 476.75 533.03 476.96 535.03C477.17 537.03 477.39 539.04 477.60 541.04C477.81 543.05 478.02 545.05 478.23 547.06C478.44 549.06 478.67 551.06 478.88 553.07C479.10 555.08 479.30 557.09 479.52 559.10C479.73 561.11 479.95 563.11 480.17 565.12C480.39 567.13 480.61 569.14 480.83 571.15C481.05 573.16 481.28 575.17 481.50 577.18C481.73 579.19 481.95 581.21 482.18 583.22C482.41 585.23 482.65 587.25 482.88 589.26C483.11 591.27 483.34 593.29 483.58 595.30C483.82 597.31 484.07 599.36 484.31 601.34C484.54 603.26 484.88 605.08 485.00 607.00C485.12 608.98 485.00 611.03 485.01 613.04C485.02 615.05 485.03 617.06 485.04 619.07C485.05 621.08 485.07 623.10 485.09 625.11C485.11 627.12 485.13 629.14 485.16 631.15C485.19 633.16 485.22 635.17 485.25 637.18C485.28 639.19 485.32 641.21 485.36 643.22C485.40 645.23 485.44 647.24 485.48 649.25C485.52 651.26 485.57 653.27 485.62 655.28C485.67 657.29 485.72 659.31 485.77 661.32C485.82 663.33 485.87 665.34 485.93 667.35C485.99 669.36 486.05 671.37 486.11 673.38C486.17 675.39 486.23 677.41 486.29 679.42C486.35 681.43 486.42 683.44 486.48 685.45C486.55 687.46 486.61 689.47 486.68 691.48C486.75 693.49 486.82 695.50 486.89 697.51C486.96 699.52 487.03 701.53 487.10 703.54C487.17 705.55 487.24 707.57 487.31 709.58C487.38 711.59 487.45 713.60 487.52 715.61C487.59 717.62 487.67 719.63 487.74 721.64C487.81 723.65 487.88 725.66 487.95 727.67C488.02 729.68 488.10 731.69 488.17 733.70C488.24 735.71 488.31 737.73 488.38 739.74C488.45 741.75 488.51 743.76 488.58 745.77C488.65 747.78 488.72 749.79 488.79 751.80C488.86 753.81 488.92 755.82 488.98 757.83C489.04 759.84 489.10 761.86 489.16 763.87C489.22 765.88 489.28 767.89 489.34 769.90C489.40 771.91 489.46 773.92 489.51 775.93C489.56 777.94 489.61 779.96 489.66 781.97C489.71 783.98 489.75 788.00 489.80 788.00C489.85 788.00 489.89 783.97 489.95 781.96C490.00 779.95 490.07 777.95 490.13 775.94C490.19 773.93 490.25 771.93 490.32 769.92C490.39 767.92 490.46 765.91 490.53 763.91C490.60 761.91 490.68 759.91 490.76 757.91C490.84 755.91 490.92 753.91 491.01 751.91C491.09 749.91 491.18 747.92 491.27 745.93C491.36 743.93 491.45 741.94 491.55 739.94C491.64 737.95 491.74 735.95 491.84 733.96C491.94 731.97 492.04 729.97 492.15 727.98C492.25 725.99 492.36 724.00 492.47 722.01C492.58 720.02 492.70 718.02 492.81 716.03C492.92 714.04 493.03 712.05 493.15 710.06C493.27 708.07 493.39 706.08 493.51 704.09C493.63 702.10 493.75 700.10 493.87 698.11C493.99 696.12 494.12 694.12 494.25 692.13C494.38 690.13 494.50 688.14 494.63 686.14C494.76 684.15 494.89 682.15 495.02 680.16C495.15 678.16 495.29 676.16 495.42 674.16C495.55 672.16 495.69 670.16 495.82 668.16C495.96 666.16 496.09 664.15 496.23 662.15C496.37 660.14 496.51 658.14 496.65 656.13C496.79 654.12 496.92 652.12 497.06 650.11C497.20 648.10 497.34 646.08 497.48 644.07C497.62 642.05 497.77 640.04 497.91 638.02C498.05 636.00 498.19 633.97 498.33 631.95C498.47 629.93 498.61 627.91 498.75 625.88C498.89 623.85 499.03 621.82 499.17 619.79C499.31 617.75 499.46 615.72 499.60 613.68C499.74 611.64 499.88 609.60 500.02 607.56C500.16 605.52 500.29 603.47 500.43 601.42C500.57 599.37 500.72 597.32 500.86 595.27C501.01 593.22 501.14 591.16 501.30 589.11C501.45 587.06 501.62 585.01 501.79 582.96C501.96 580.91 502.14 578.86 502.34 576.82C502.54 574.78 502.74 572.74 502.97 570.71C503.20 568.68 503.44 566.66 503.71 564.64C503.97 562.63 504.25 560.61 504.56 558.61C504.87 556.61 505.20 554.62 505.56 552.64C505.92 550.66 506.30 548.69 506.71 546.73C507.12 544.78 507.56 542.83 508.04 540.90C508.52 538.97 509.03 537.05 509.58 535.15C510.13 533.25 510.71 531.37 511.33 529.50C511.95 527.64 512.60 525.78 513.31 523.95C514.01 522.12 514.77 520.32 515.56 518.53C516.36 516.74 517.19 514.96 518.08 513.22C518.97 511.47 519.89 509.73 520.90 508.06C521.90 506.40 522.93 504.75 524.08 503.24C525.21 501.76 526.40 500.31 527.73 499.08C529.03 497.88 530.44 496.76 531.96 495.94C533.46 495.13 535.13 494.47 536.77 494.16C538.38 493.86 540.13 493.78 541.72 494.08C543.31 494.38 544.91 495.09 546.32 495.99C547.81 496.94 549.14 498.32 550.38 499.74C551.70 501.25 552.85 503.04 553.96 504.83C555.11 506.69 556.14 508.72 557.12 510.73C558.11 512.76 559.01 514.88 559.89 516.96C560.75 519.00 561.57 521.05 562.35 523.08C563.11 525.07 563.83 527.05 564.53 529.03C565.22 530.98 565.87 532.91 566.50 534.85C567.13 536.77 567.73 538.69 568.32 540.61C568.91 542.52 569.46 544.43 570.02 546.35C570.57 548.26 571.12 550.18 571.65 552.10C572.18 554.02 572.70 555.94 573.21 557.87C573.72 559.80 574.21 561.73 574.70 563.66C575.19 565.59 575.66 567.52 576.13 569.46C576.60 571.39 577.05 573.33 577.50 575.27C577.95 577.21 578.39 579.15 578.82 581.10C579.25 583.04 579.67 584.99 580.08 586.94C580.49 588.89 580.90 590.84 581.30 592.79C581.70 594.74 582.09 596.70 582.48 598.66C582.87 600.62 583.25 602.59 583.62 604.55C583.99 606.51 584.36 608.47 584.72 610.44C585.08 612.41 585.44 614.38 585.79 616.35C586.14 618.32 586.48 620.30 586.82 622.27C587.16 624.25 587.49 626.22 587.82 628.20C588.15 630.18 588.47 632.16 588.78 634.14C589.10 636.12 589.41 638.11 589.71 640.09C590.01 642.08 590.31 644.06 590.60 646.05C590.89 648.04 591.18 650.03 591.46 652.02C591.74 654.01 592.02 656.01 592.29 658.00C592.56 659.99 592.83 661.99 593.09 663.98C593.35 665.97 593.60 667.96 593.85 669.96C594.10 671.96 594.35 673.96 594.59 675.96C594.83 677.96 595.06 679.95 595.29 681.95C595.52 683.95 595.74 685.95 595.96 687.95C596.18 689.95 596.39 691.96 596.60 693.96C596.81 695.96 597.02 697.96 597.22 699.96C597.42 701.96 597.61 703.97 597.80 705.97C597.99 707.97 598.18 709.98 598.36 711.98C598.54 713.98 598.71 715.98 598.88 717.98C599.05 719.98 599.22 721.99 599.38 723.99C599.54 725.99 599.70 728.00 599.85 730.00C600.00 732.00 599.87 735.94 600.30 736.00C600.73 736.06 601.80 732.25 602.44 730.35C603.08 728.46 603.64 726.56 604.15 724.64C604.66 722.73 605.09 720.81 605.49 718.88C605.89 716.95 606.22 715.01 606.53 713.07C606.84 711.13 607.10 709.18 607.35 707.22C607.60 705.26 607.80 703.29 608.01 701.32C608.22 699.35 608.40 697.37 608.59 695.39C608.78 693.41 608.95 691.42 609.14 689.43C609.33 687.43 609.53 685.43 609.72 683.43C609.91 681.43 610.11 679.43 610.30 677.42C610.50 675.41 610.69 673.39 610.89 671.38C611.09 669.36 611.29 667.35 611.49 665.33C611.69 663.31 611.88 661.29 612.08 659.27C612.28 657.25 612.48 655.23 612.68 653.21C612.88 651.19 613.07 649.16 613.26 647.14C613.45 645.12 613.65 643.09 613.84 641.07C614.03 639.05 614.22 637.03 614.40 635.01C614.58 632.99 614.76 630.98 614.94 628.96C615.12 626.95 615.29 624.94 615.46 622.93C615.63 620.92 615.79 618.91 615.95 616.91C616.11 614.91 616.26 612.91 616.41 610.92C616.56 608.93 616.70 606.95 616.84 604.96C616.98 602.98 617.12 601.00 617.26 599.02C617.40 597.05 617.55 595.08 617.70 593.11C617.85 591.14 618.01 589.17 618.18 587.21C618.35 585.25 618.53 583.29 618.73 581.33C618.93 579.37 619.14 577.42 619.38 575.47C619.62 573.52 619.88 571.56 620.16 569.61C620.45 567.66 620.75 565.71 621.09 563.76C621.43 561.81 621.79 559.86 622.20 557.91C622.61 555.96 623.05 554.01 623.53 552.07C624.01 550.11 624.53 548.16 625.09 546.21C625.66 544.25 626.26 542.30 626.92 540.36C627.58 538.40 628.29 536.44 629.05 534.49C629.82 532.52 630.63 530.55 631.50 528.61C632.38 526.66 633.30 524.72 634.30 522.83C635.29 520.94 636.34 519.06 637.47 517.26C638.59 515.47 639.78 513.71 641.05 512.05C642.31 510.40 643.65 508.80 645.07 507.32C646.48 505.86 647.97 504.47 649.54 503.22C651.10 501.98 652.75 500.84 654.45 499.85C656.14 498.87 657.90 498.00 659.70 497.30C661.48 496.61 663.33 496.05 665.18 495.68C667.02 495.31 668.91 495.08 670.78 495.06C672.65 495.04 674.56 495.21 676.41 495.54C678.28 495.87 680.14 496.42 681.95 497.07C683.78 497.72 685.57 498.55 687.31 499.45C689.05 500.35 690.75 501.40 692.38 502.49C694.00 503.58 695.56 504.76 697.06 505.99C698.54 507.21 699.96 508.51 701.32 509.85C702.67 511.19 703.97 512.59 705.20 514.04C706.43 515.49 707.59 517.00 708.71 518.54C709.83 520.09 710.89 521.68 711.90 523.31C712.91 524.95 713.87 526.63 714.78 528.34C715.70 530.06 716.56 531.81 717.38 533.59C718.21 535.38 718.99 537.20 719.73 539.04C720.48 540.89 721.18 542.76 721.86 544.65C722.54 546.55 723.18 548.48 723.80 550.41C724.42 552.35 725.00 554.31 725.57 556.27C726.14 558.24 726.68 560.23 727.20 562.22C727.73 564.22 728.23 566.22 728.72 568.23C729.21 570.24 729.69 572.26 730.16 574.28C730.63 576.29 731.09 578.31 731.54 580.32C731.99 582.33 732.44 584.34 732.88 586.35C733.32 588.36 733.74 590.37 734.17 592.38C734.59 594.38 735.02 596.39 735.43 598.39C735.84 600.39 736.25 602.40 736.65 604.40C737.05 606.40 737.43 608.39 737.82 610.39C738.20 612.39 738.59 614.38 738.96 616.38C739.33 618.37 739.70 620.37 740.06 622.36C740.42 624.35 740.77 626.35 741.12 628.34C741.47 630.33 741.80 632.32 742.14 634.31C742.47 636.30 742.80 638.28 743.13 640.27C743.45 642.26 743.78 644.24 744.09 646.23C744.40 648.21 744.71 650.20 745.01 652.18C745.31 654.16 745.60 656.15 745.89 658.13C746.18 660.11 746.46 662.10 746.74 664.08C747.02 666.06 747.29 668.04 747.56 670.02C747.83 672.00 748.09 673.98 748.35 675.96C748.61 677.94 748.86 679.91 749.10 681.89C749.35 683.87 749.58 685.85 749.82 687.83C750.06 689.81 750.29 691.78 750.52 693.76C750.75 695.74 750.96 697.72 751.18 699.70C751.40 701.68 751.61 703.65 751.82 705.63C752.03 707.61 752.22 709.58 752.42 711.56C752.62 713.54 752.81 715.52 753.00 717.50C753.19 719.48 753.38 721.45 753.56 723.43C753.74 725.41 753.91 727.39 754.08 729.37C754.25 731.35 754.42 733.33 754.58 735.31C754.74 737.29 754.91 739.27 755.06 741.25C755.22 743.23 755.36 745.22 755.51 747.20C755.66 749.18 755.80 751.17 755.94 753.15C756.08 755.14 756.22 757.12 756.35 759.11C756.48 761.10 756.61 763.08 756.73 765.07C756.85 767.06 756.97 769.04 757.09 771.03C757.21 773.02 757.32 775.01 757.43 777.00C757.54 778.99 757.65 780.99 757.76 782.98C757.86 784.97 757.96 786.97 758.06 788.96C758.16 790.95 758.25 792.95 758.34 794.94C758.43 796.94 758.51 798.93 758.60 800.93C758.68 802.93 758.77 804.92 758.85 806.92C758.93 808.92 759.01 810.92 759.08 812.92C759.15 814.92 759.22 816.92 759.29 818.92C759.36 820.92 759.42 822.93 759.49 824.93C759.55 826.93 759.62 828.93 759.68 830.93C759.74 832.93 759.80 834.94 759.85 836.94C759.90 838.95 759.95 840.95 760.00 842.96C760.05 844.96 760.10 846.97 760.14 848.97C760.19 850.98 760.23 852.98 760.27 854.99C760.31 857.00 760.35 859.00 760.39 861.01C760.43 863.02 760.47 865.02 760.50 867.03C760.54 869.04 760.57 871.05 760.60 873.06C760.63 875.07 760.66 877.07 760.69 879.08C760.72 881.09 760.74 883.10 760.77 885.11C760.79 887.12 760.82 889.13 760.84 891.14C760.86 893.15 760.88 895.15 760.90 897.16C760.92 899.17 760.94 901.18 760.96 903.19C760.98 905.20 760.99 907.21 761.01 909.22C761.02 911.23 761.04 913.24 761.05 915.25C761.06 917.26 761.08 919.26 761.09 921.27C761.10 923.28 761.12 925.29 761.13 927.30C761.14 929.31 761.15 931.32 761.16 933.33C761.17 935.34 761.18 937.34 761.19 939.35C761.20 941.36 761.21 943.37 761.22 945.38C761.23 947.39 761.23 949.39 761.24 951.40C761.25 953.41 761.25 955.41 761.26 957.42C761.27 959.43 761.28 961.43 761.29 963.44C761.30 965.45 761.30 967.45 761.31 969.46C761.32 971.46 761.33 973.47 761.34 975.47C761.35 977.47 761.35 979.48 761.36 981.48C761.37 983.48 761.38 985.49 761.39 987.49C761.40 989.49 761.42 991.50 761.43 993.50C761.44 995.50 761.45 997.50 761.46 999.50C761.47 1001.50 761.49 1005.50 761.50 1005.50C761.51 1005.50 761.51 1001.49 761.52 999.48C761.53 997.47 761.53 995.46 761.54 993.45C761.55 991.44 761.55 989.44 761.56 987.43C761.57 985.42 761.57 983.41 761.58 981.40C761.59 979.39 761.60 977.39 761.61 975.38C761.62 973.37 761.63 971.37 761.64 969.36C761.65 967.35 761.67 965.35 761.68 963.34C761.69 961.33 761.70 959.32 761.72 957.31C761.73 955.30 761.75 953.30 761.77 951.29C761.79 949.28 761.80 947.28 761.82 945.27C761.84 943.26 761.86 941.26 761.88 939.25C761.90 937.24 761.93 935.24 761.95 933.23C761.97 931.22 762.00 929.22 762.02 927.21C762.05 925.20 762.07 923.20 762.10 921.19C762.13 919.18 762.16 917.18 762.19 915.17C762.22 913.16 762.26 911.16 762.29 909.15C762.33 907.14 762.36 905.14 762.40 903.13C762.44 901.12 762.48 899.12 762.52 897.11C762.56 895.10 762.60 893.10 762.64 891.09C762.68 889.09 762.73 887.08 762.78 885.08C762.83 883.07 762.88 881.07 762.93 879.06C762.98 877.05 763.03 875.05 763.09 873.04C763.14 871.04 763.20 869.03 763.26 867.03C763.32 865.02 763.38 863.02 763.44 861.01C763.50 859.00 763.57 857.00 763.64 854.99C763.71 852.99 763.77 850.98 763.84 848.98C763.91 846.97 763.99 844.97 764.07 842.96C764.15 840.96 764.22 838.95 764.30 836.95C764.38 834.94 764.46 832.94 764.55 830.93C764.64 828.93 764.73 826.92 764.82 824.92C764.91 822.92 765.01 820.91 765.10 818.91C765.20 816.90 765.29 814.90 765.39 812.89C765.49 810.89 765.60 808.88 765.71 806.88C765.82 804.88 765.93 802.87 766.04 800.87C766.15 798.87 766.26 796.86 766.38 794.86C766.50 792.86 766.63 790.85 766.75 788.85C766.88 786.84 767.00 784.84 767.13 782.83C767.26 780.83 767.39 778.82 767.53 776.82C767.67 774.82 767.81 772.81 767.95 770.81C768.09 768.81 768.24 766.80 768.39 764.80C768.54 762.80 768.70 760.79 768.85 758.79C769.01 756.79 769.16 754.78 769.32 752.78C769.48 750.78 769.65 748.77 769.82 746.77C769.99 744.77 770.16 742.77 770.34 740.77C770.52 738.77 770.71 736.76 770.89 734.76C771.08 732.76 771.26 730.75 771.45 728.75C771.64 726.75 771.84 724.74 772.04 722.74C772.24 720.74 772.44 718.74 772.65 716.74C772.86 714.74 773.06 712.73 773.28 710.73C773.49 708.73 773.72 706.73 773.94 704.73C774.16 702.73 774.39 700.73 774.62 698.73C774.85 696.73 775.09 694.73 775.33 692.73C775.57 690.73 775.82 688.74 776.07 686.74C776.32 684.75 776.57 682.75 776.83 680.76C777.09 678.77 777.35 676.77 777.62 674.78C777.89 672.79 778.16 670.79 778.44 668.80C778.72 666.81 779.00 664.83 779.29 662.84C779.58 660.85 779.87 658.87 780.17 656.88C780.47 654.90 780.77 652.91 781.08 650.93C781.39 648.95 781.70 646.97 782.02 644.99C782.34 643.01 782.66 641.04 782.99 639.06C783.32 637.09 783.65 635.11 783.99 633.14C784.33 631.17 784.68 629.20 785.03 627.23C785.38 625.26 785.74 623.30 786.10 621.34C786.46 619.38 786.83 617.42 787.21 615.46C787.58 613.50 787.96 611.54 788.35 609.59C788.74 607.64 789.13 605.69 789.53 603.74C789.93 601.79 790.33 599.84 790.74 597.90C791.15 595.96 791.57 594.02 791.99 592.08C792.41 590.14 792.84 588.20 793.28 586.27C793.72 584.34 794.16 582.41 794.61 580.49C795.06 578.56 795.52 576.64 796.00 574.72C796.48 572.80 796.97 570.88 797.48 568.96C797.99 567.05 798.51 565.14 799.06 563.23C799.61 561.32 800.17 559.40 800.76 557.50C801.35 555.59 801.97 553.70 802.62 551.80C803.27 549.90 803.94 547.99 804.65 546.10C805.36 544.20 806.10 542.31 806.87 540.43C807.65 538.53 808.46 536.64 809.31 534.76C810.17 532.87 811.06 530.98 811.99 529.11C812.93 527.22 813.90 525.34 814.92 523.48C815.95 521.61 817.01 519.74 818.14 517.93C819.26 516.12 820.43 514.33 821.67 512.61C822.89 510.91 824.17 509.25 825.52 507.69C826.85 506.16 828.25 504.67 829.73 503.33C831.18 502.01 832.70 500.76 834.30 499.69C835.88 498.63 837.55 497.68 839.27 496.92C840.98 496.16 842.79 495.57 844.61 495.14C846.43 494.71 848.31 494.44 850.18 494.32C852.06 494.20 853.98 494.25 855.86 494.44C857.75 494.63 859.65 494.97 861.49 495.45C863.34 495.93 865.18 496.57 866.94 497.33C868.71 498.10 870.43 499.02 872.07 500.05C873.72 501.09 875.29 502.27 876.79 503.54C878.31 504.82 879.75 506.23 881.12 507.69C882.51 509.17 883.82 510.76 885.08 512.38C886.35 514.02 887.56 515.74 888.72 517.48C889.89 519.23 891.00 521.04 892.07 522.86C893.14 524.68 894.17 526.55 895.16 528.41C896.15 530.26 897.10 532.13 898.02 533.99C898.93 535.83 899.82 537.67 900.68 539.51C901.54 541.33 902.37 543.15 903.18 544.97C903.99 546.78 904.77 548.59 905.54 550.40C906.30 552.20 907.04 554.00 907.77 555.80C908.50 557.60 909.21 559.41 909.92 561.22C910.62 563.03 911.32 564.84 912.00 566.66C912.69 568.49 913.36 570.32 914.03 572.16C914.71 574.01 915.38 575.87 916.05 577.74C916.73 579.62 917.40 581.52 918.08 583.42C918.77 585.34 919.45 587.27 920.14 589.22C920.84 591.19 921.54 593.18 922.26 595.18C922.99 597.21 923.72 599.25 924.47 601.30C925.23 603.39 925.99 605.51 926.78 607.61C927.58 609.71 928.37 611.86 929.24 613.89C930.08 615.86 930.93 617.84 931.89 619.63C932.78 621.30 933.69 622.96 934.76 624.30C935.72 625.50 936.75 626.71 937.91 627.38C938.95 627.98 940.19 628.40 941.32 628.34C942.49 628.28 943.72 627.64 944.82 626.93C946.05 626.13 947.19 624.87 948.25 623.60C949.40 622.21 950.43 620.55 951.40 618.87C952.42 617.11 953.33 615.17 954.21 613.25C955.11 611.30 955.92 609.26 956.73 607.26C957.53 605.27 958.29 603.27 959.03 601.27C959.76 599.29 960.46 597.31 961.14 595.33C961.82 593.36 962.47 591.39 963.11 589.42C963.75 587.46 964.37 585.51 964.99 583.56C965.61 581.62 966.21 579.67 966.82 577.74C967.43 575.81 968.03 573.90 968.64 571.98C969.25 570.07 969.87 568.16 970.50 566.26C971.13 564.37 971.77 562.48 972.44 560.60C973.11 558.72 973.78 556.85 974.50 554.99C975.22 553.13 975.96 551.28 976.74 549.44C977.52 547.60 978.33 545.77 979.18 543.95C980.04 542.13 980.93 540.31 981.88 538.52C982.83 536.72 983.83 534.93 984.87 533.16C985.92 531.39 987.02 529.62 988.16 527.90C989.30 526.18 990.49 524.48 991.73 522.82C992.96 521.17 994.24 519.54 995.57 517.97C996.89 516.41 998.26 514.88 999.67 513.41C1001.07 511.95 1002.51 510.53 1004.00 509.19C1005.48 507.86 1007.00 506.58 1008.56 505.38C1010.11 504.20 1011.70 503.07 1013.33 502.04C1014.94 501.02 1016.60 500.07 1018.29 499.23C1019.97 498.39 1021.68 497.64 1023.43 497.00C1025.17 496.37 1026.94 495.83 1028.74 495.42C1030.53 495.01 1032.36 494.71 1034.20 494.55C1036.05 494.39 1037.92 494.34 1039.79 494.44C1041.69 494.54 1043.60 494.79 1045.50 495.16C1047.44 495.54 1049.39 496.09 1051.30 496.73C1053.25 497.39 1055.20 498.19 1057.10 499.07C1059.03 499.97 1060.93 500.99 1062.78 502.08C1064.65 503.18 1066.48 504.40 1068.25 505.67C1070.02 506.95 1071.74 508.31 1073.39 509.73C1075.03 511.14 1076.62 512.63 1078.12 514.17C1079.60 515.69 1080.99 517.28 1082.32 518.89C1083.64 520.48 1084.87 522.13 1086.08 523.78C1087.28 525.42 1088.41 527.10 1089.55 528.76C1090.68 530.41 1091.78 532.07 1092.91 533.71C1094.04 535.34 1095.15 536.97 1096.34 538.55C1097.52 540.12 1098.72 541.68 1100.01 543.17C1101.30 544.65 1102.64 546.11 1104.06 547.46C1105.47 548.80 1106.96 550.10 1108.51 551.25C1110.05 552.39 1111.66 553.45 1113.33 554.33C1114.98 555.20 1116.71 555.98 1118.46 556.53C1120.19 557.08 1122.00 557.49 1123.78 557.64C1125.54 557.79 1127.36 557.76 1129.09 557.45C1130.82 557.14 1132.55 556.58 1134.17 555.80C1135.84 555.00 1137.41 553.87 1138.92 552.68C1140.49 551.44 1141.95 549.97 1143.38 548.48C1144.85 546.95 1146.23 545.27 1147.60 543.60C1148.99 541.92 1150.32 540.16 1151.66 538.44C1152.99 536.73 1154.30 535.02 1155.62 533.32C1156.92 531.64 1158.21 529.96 1159.52 528.30C1160.82 526.66 1162.11 525.03 1163.44 523.43C1164.75 521.85 1166.08 520.28 1167.44 518.76C1168.79 517.24 1170.16 515.75 1171.58 514.31C1172.99 512.88 1174.42 511.47 1175.91 510.13C1177.40 508.79 1178.93 507.49 1180.50 506.26C1182.07 505.03 1183.68 503.85 1185.34 502.75C1186.99 501.65 1188.68 500.62 1190.41 499.67C1192.12 498.73 1193.87 497.86 1195.65 497.09C1197.41 496.33 1199.21 495.64 1201.03 495.07C1202.83 494.51 1204.66 494.04 1206.50 493.69C1208.33 493.35 1210.18 493.09 1212.02 492.99C1213.86 492.89 1215.72 492.91 1217.55 493.07C1219.39 493.23 1221.24 493.53 1223.05 493.97C1224.88 494.42 1226.70 495.03 1228.47 495.76C1230.27 496.50 1232.04 497.41 1233.77 498.39C1235.53 499.39 1237.25 500.53 1238.92 501.73C1240.61 502.95 1242.26 504.29 1243.86 505.67C1245.47 507.06 1247.04 508.54 1248.56 510.06C1250.08 511.58 1251.56 513.17 1252.98 514.79C1254.39 516.40 1255.76 518.06 1257.07 519.73C1258.37 521.39 1259.61 523.08 1260.81 524.79C1262.00 526.48 1263.13 528.20 1264.22 529.94C1265.30 531.67 1266.33 533.42 1267.32 535.19C1268.30 536.95 1269.24 538.73 1270.14 540.53C1271.04 542.32 1271.89 544.12 1272.71 545.94C1273.53 547.75 1274.30 549.59 1275.04 551.43C1275.78 553.27 1276.48 555.13 1277.16 556.99C1277.84 558.85 1278.48 560.73 1279.10 562.61C1279.72 564.49 1280.30 566.38 1280.87 568.28C1281.44 570.18 1281.98 572.08 1282.51 573.99C1283.04 575.90 1283.55 577.83 1284.04 579.75C1284.54 581.68 1285.01 583.61 1285.48 585.54C1285.95 587.48 1286.41 589.42 1286.86 591.36C1287.31 593.30 1287.76 595.25 1288.20 597.20C1288.65 599.15 1289.09 601.10 1289.53 603.05C1289.97 605.00 1290.40 606.96 1290.84 608.91C1291.28 610.87 1291.72 612.82 1292.15 614.78C1292.59 616.74 1293.02 618.70 1293.45 620.66C1293.88 622.62 1294.30 624.59 1294.72 626.55C1295.14 628.52 1295.57 630.48 1295.98 632.45C1296.40 634.42 1296.80 636.39 1297.21 638.36C1297.62 640.33 1298.02 642.31 1298.42 644.28C1298.82 646.25 1299.21 648.23 1299.59 650.20C1299.98 652.18 1300.36 654.15 1300.73 656.13C1301.10 658.11 1301.47 660.08 1301.83 662.06C1302.19 664.04 1302.54 666.03 1302.89 668.01C1303.23 669.99 1303.57 671.98 1303.90 673.96C1304.23 675.94 1304.56 677.93 1304.87 679.91C1305.18 681.90 1305.49 683.88 1305.78 685.87C1306.07 687.86 1306.36 689.84 1306.63 691.83C1306.91 693.82 1307.17 695.81 1307.43 697.80C1307.68 699.79 1307.93 701.78 1308.16 703.77C1308.39 705.76 1308.61 707.76 1308.83 709.75C1309.05 711.75 1309.26 713.74 1309.46 715.74C1309.67 717.74 1309.86 719.75 1310.06 721.76C1310.26 723.77 1310.45 725.78 1310.64 727.79C1310.83 729.81 1311.02 731.83 1311.21 733.86C1311.40 735.89 1311.59 737.92 1311.78 739.96C1311.97 742.00 1312.15 744.05 1312.36 746.10C1312.57 748.15 1312.74 750.22 1313.05 752.24C1313.36 754.24 1313.67 756.26 1314.23 758.18C1314.78 760.07 1315.42 761.95 1316.36 763.65C1317.31 765.36 1318.90 768.51 1319.90 768.40C1320.92 768.29 1321.67 764.75 1322.41 762.88C1323.14 761.04 1323.77 759.16 1324.32 757.28C1324.87 755.41 1325.32 753.51 1325.72 751.61C1326.12 749.71 1326.43 747.80 1326.71 745.88C1326.99 743.96 1327.20 742.03 1327.40 740.10C1327.60 738.16 1327.75 736.22 1327.89 734.27C1328.04 732.31 1328.15 730.35 1328.27 728.39C1328.40 726.42 1328.50 724.44 1328.64 722.46C1328.78 720.48 1328.93 718.49 1329.10 716.50C1329.27 714.50 1329.45 712.50 1329.65 710.50C1329.85 708.49 1330.06 706.48 1330.28 704.47C1330.50 702.45 1330.75 700.44 1330.99 698.42C1331.23 696.40 1331.48 694.37 1331.74 692.34C1332.00 690.31 1332.26 688.28 1332.53 686.25C1332.80 684.22 1333.07 682.18 1333.35 680.15C1333.63 678.11 1333.91 676.08 1334.19 674.04C1334.47 672.00 1334.74 669.96 1335.02 667.92C1335.30 665.88 1335.58 663.85 1335.86 661.81C1336.14 659.77 1336.42 657.74 1336.71 655.70C1337.00 653.67 1337.29 651.63 1337.58 649.60C1337.87 647.57 1338.17 645.54 1338.47 643.51C1338.77 641.48 1339.08 639.46 1339.40 637.44C1339.72 635.42 1340.04 633.41 1340.37 631.40C1340.70 629.39 1341.04 627.38 1341.39 625.38C1341.74 623.38 1342.10 621.39 1342.47 619.40C1342.84 617.41 1343.23 615.43 1343.62 613.45C1344.01 611.48 1344.41 609.50 1344.83 607.54C1345.25 605.58 1345.68 603.62 1346.13 601.67C1346.58 599.73 1347.04 597.79 1347.52 595.86C1348.00 593.93 1348.50 592.00 1349.01 590.09C1349.52 588.18 1350.05 586.28 1350.60 584.39C1351.15 582.50 1351.71 580.62 1352.30 578.75C1352.89 576.88 1353.50 575.02 1354.13 573.17C1354.76 571.32 1355.42 569.49 1356.10 567.66C1356.78 565.84 1357.49 564.02 1358.23 562.22C1358.97 560.42 1359.73 558.63 1360.52 556.86C1361.32 555.08 1362.14 553.32 1363.00 551.57C1363.86 549.82 1364.76 548.07 1365.69 546.35C1366.62 544.62 1367.58 542.91 1368.58 541.22C1369.59 539.52 1370.63 537.83 1371.71 536.16C1372.80 534.48 1373.92 532.83 1375.08 531.19C1376.25 529.54 1377.46 527.92 1378.71 526.31C1379.97 524.69 1381.28 523.09 1382.62 521.52C1383.98 519.93 1385.38 518.36 1386.82 516.82C1388.28 515.26 1389.77 513.72 1391.31 512.22C1392.86 510.72 1394.46 509.23 1396.09 507.82C1397.72 506.41 1399.39 505.04 1401.10 503.76C1402.80 502.49 1404.54 501.26 1406.32 500.15C1408.07 499.05 1409.87 498.02 1411.70 497.13C1413.50 496.25 1415.34 495.45 1417.21 494.82C1419.05 494.20 1420.93 493.70 1422.81 493.36C1424.68 493.03 1426.58 492.85 1428.47 492.80C1430.36 492.75 1432.27 492.85 1434.15 493.06C1436.04 493.27 1437.93 493.61 1439.80 494.04C1441.68 494.47 1443.55 495.02 1445.40 495.64C1447.26 496.26 1449.10 496.98 1450.91 497.76C1452.73 498.54 1454.52 499.40 1456.28 500.31C1458.04 501.22 1459.78 502.19 1461.49 503.20C1463.19 504.21 1464.86 505.27 1466.51 506.36C1468.16 507.46 1469.78 508.59 1471.37 509.77C1472.96 510.95 1474.52 512.17 1476.05 513.43C1477.58 514.69 1479.09 515.98 1480.57 517.31C1482.05 518.64 1483.51 520.01 1484.94 521.40C1486.37 522.80 1487.78 524.23 1489.16 525.68C1490.54 527.13 1491.90 528.62 1493.24 530.12C1494.58 531.63 1495.89 533.17 1497.18 534.72C1498.47 536.28 1499.74 537.86 1500.99 539.45C1502.24 541.05 1503.48 542.67 1504.69 544.30C1505.90 545.93 1507.09 547.59 1508.26 549.25C1509.43 550.91 1510.59 552.59 1511.73 554.28C1512.87 555.97 1513.98 557.66 1515.09 559.37C1516.19 561.07 1517.28 562.79 1518.36 564.51C1519.43 566.23 1520.49 567.95 1521.54 569.68C1522.58 571.40 1523.61 573.14 1524.63 574.87C1525.65 576.60 1526.65 578.34 1527.65 580.08C1528.64 581.82 1529.63 583.56 1530.60 585.31C1531.57 587.05 1532.54 588.80 1533.49 590.55C1534.44 592.30 1535.38 594.05 1536.32 595.81C1537.25 597.56 1538.18 599.32 1539.10 601.08C1540.02 602.84 1540.92 604.61 1541.83 606.37C1542.73 608.13 1543.64 609.89 1544.53 611.66C1545.43 613.43 1546.31 615.20 1547.20 616.97C1548.08 618.74 1548.96 620.52 1549.84 622.29C1550.72 624.07 1551.60 625.84 1552.47 627.62C1553.34 629.40 1554.21 631.18 1555.08 632.96C1555.95 634.74 1556.83 636.52 1557.70 638.31C1558.58 640.12 1559.46 641.92 1560.35 643.75C1561.25 645.61 1562.16 647.47 1563.08 649.37C1564.02 651.31 1564.98 653.28 1565.95 655.27C1566.95 657.32 1567.94 659.45 1569.00 661.50C1570.05 663.55 1571.10 665.68 1572.28 667.58C1573.39 669.37 1574.51 671.22 1575.83 672.62C1577.02 673.87 1578.31 675.10 1579.72 675.70C1581.02 676.25 1582.52 676.43 1583.90 676.25C1585.34 676.06 1586.82 675.29 1588.17 674.47C1589.63 673.58 1590.99 672.25 1592.31 671.02C1593.65 669.76 1594.93 668.39 1596.16 666.99C1597.40 665.58 1598.58 664.10 1599.71 662.59C1600.85 661.06 1601.94 659.48 1602.99 657.87C1604.05 656.24 1605.07 654.57 1606.06 652.87C1607.05 651.16 1608.00 649.40 1608.93 647.63C1609.87 645.84 1610.77 644.02 1611.65 642.19C1612.54 640.34 1613.40 638.46 1614.25 636.58C1615.10 634.69 1615.94 632.78 1616.76 630.86C1617.58 628.94 1618.39 627.00 1619.19 625.06C1619.99 623.12 1620.79 621.17 1621.58 619.22C1622.37 617.27 1623.15 615.32 1623.94 613.38C1624.72 611.44 1625.50 609.51 1626.29 607.58C1627.07 605.67 1627.86 603.76 1628.66 601.86C1629.45 599.98 1630.25 598.10 1631.06 596.24C1631.86 594.39 1632.67 592.55 1633.50 590.72C1634.32 588.90 1635.15 587.09 1636.00 585.29C1636.84 583.50 1637.70 581.72 1638.57 579.95C1639.44 578.19 1640.31 576.43 1641.21 574.69C1642.10 572.95 1643.01 571.23 1643.94 569.51C1644.87 567.80 1645.81 566.09 1646.77 564.40C1647.73 562.71 1648.71 561.03 1649.71 559.36C1650.71 557.69 1651.73 556.04 1652.77 554.39C1653.81 552.74 1654.88 551.10 1655.97 549.47C1657.06 547.84 1658.17 546.22 1659.31 544.61C1660.45 543.00 1661.61 541.39 1662.80 539.80C1664.00 538.20 1665.22 536.62 1666.47 535.04C1667.72 533.46 1669.00 531.88 1670.30 530.32C1671.61 528.75 1672.96 527.19 1674.33 525.64C1675.71 524.08 1677.12 522.54 1678.55 521.02C1679.99 519.50 1681.45 518.00 1682.94 516.53C1684.43 515.06 1685.96 513.61 1687.51 512.21C1689.06 510.81 1690.63 509.44 1692.24 508.13C1693.84 506.82 1695.46 505.55 1697.12 504.34C1698.77 503.14 1700.44 501.98 1702.15 500.89C1703.84 499.81 1705.56 498.79 1707.31 497.84C1709.04 496.90 1710.81 496.02 1712.60 495.24C1714.38 494.46 1716.18 493.76 1718.01 493.16C1719.83 492.56 1721.68 492.04 1723.54 491.64C1725.39 491.24 1727.27 490.93 1729.16 490.74C1731.05 490.55 1732.97 490.48 1734.88 490.52C1736.81 490.56 1738.75 490.73 1740.68 491.01C1742.63 491.29 1744.58 491.69 1746.50 492.19C1748.44 492.69 1750.38 493.32 1752.28 494.02C1754.20 494.73 1756.09 495.53 1757.95 496.42C1759.82 497.31 1761.66 498.29 1763.45 499.35C1765.24 500.41 1767.00 501.55 1768.70 502.76C1770.40 503.97 1772.05 505.26 1773.64 506.60C1775.22 507.94 1776.75 509.34 1778.20 510.80C1779.64 512.25 1781.02 513.76 1782.33 515.32C1783.63 516.87 1784.85 518.48 1786.02 520.11C1787.19 521.74 1788.29 523.41 1789.35 525.10C1790.41 526.79 1791.41 528.52 1792.38 530.26C1793.35 531.99 1794.27 533.75 1795.17 535.51C1796.07 537.27 1796.92 539.05 1797.77 540.82C1798.62 542.59 1799.45 544.36 1800.27 546.13C1801.09 547.88 1801.88 549.64 1802.70 551.38C1803.51 553.11 1804.33 554.83 1805.15 556.55C1805.97 558.26 1806.79 559.97 1807.62 561.68C1808.46 563.40 1809.31 565.12 1810.17 566.85C1811.04 568.60 1811.92 570.35 1812.82 572.11C1813.73 573.90 1814.66 575.71 1815.60 577.53C1816.56 579.39 1817.54 581.26 1818.54 583.16C1819.57 585.11 1820.61 587.08 1821.68 589.06C1822.77 591.08 1823.87 593.15 1825.02 595.15C1826.16 597.14 1827.32 599.15 1828.54 601.04C1829.72 602.87 1830.93 604.70 1832.21 606.34C1833.42 607.88 1834.66 609.40 1836.00 610.63C1837.23 611.76 1838.52 612.86 1839.89 613.53C1841.14 614.14 1842.52 614.63 1843.83 614.60C1845.14 614.57 1846.52 614.07 1847.73 613.35C1849.10 612.53 1850.33 611.10 1851.51 609.72C1852.80 608.21 1853.95 606.35 1855.08 604.56C1856.24 602.73 1857.31 600.76 1858.35 598.85C1859.38 596.97 1860.35 595.09 1861.29 593.21C1862.22 591.36 1863.11 589.52 1863.97 587.68C1864.82 585.86 1865.63 584.04 1866.44 582.23C1867.24 580.43 1868.01 578.64 1868.78 576.85C1869.55 575.07 1870.30 573.29 1871.06 571.51C1871.82 569.73 1872.57 567.95 1873.35 566.18C1874.13 564.40 1874.91 562.63 1875.72 560.86C1876.54 559.08 1877.36 557.29 1878.23 555.51C1879.11 553.71 1880.01 551.92 1880.95 550.13C1881.89 548.33 1882.87 546.54 1883.88 544.76C1884.90 542.97 1885.94 541.19 1887.03 539.43C1888.12 537.67 1889.24 535.92 1890.40 534.20C1891.56 532.48 1892.76 530.78 1894.00 529.12C1895.24 527.46 1896.51 525.82 1897.82 524.23C1899.13 522.64 1900.48 521.08 1901.87 519.57C1903.26 518.07 1904.68 516.60 1906.15 515.19C1907.61 513.79 1909.12 512.44 1910.67 511.15C1912.21 509.87 1913.79 508.63 1915.42 507.47C1917.04 506.32 1918.71 505.23 1920.42 504.22C1922.12 503.22 1923.87 502.28 1925.65 501.43C1927.43 500.58 1929.25 499.82 1931.09 499.13C1932.93 498.45 1934.81 497.84 1936.70 497.32C1938.59 496.80 1940.51 496.36 1942.44 496.01C1944.36 495.66 1946.31 495.39 1948.25 495.21C1950.20 495.03 1952.16 494.93 1954.11 494.92C1956.06 494.91 1958.02 494.98 1959.96 495.15C1961.90 495.32 1963.84 495.58 1965.76 495.92C1967.68 496.27 1969.59 496.70 1971.47 497.22C1973.35 497.75 1975.22 498.36 1977.05 499.07C1978.88 499.78 1980.69 500.58 1982.45 501.47C1984.22 502.37 1985.95 503.36 1987.63 504.43C1989.32 505.51 1990.97 506.69 1992.58 507.91C1994.20 509.14 1995.78 510.46 1997.34 511.79C1998.91 513.13 2000.46 514.54 2001.99 515.94C2003.53 517.35 2005.04 518.80 2006.56 520.23C2008.08 521.66 2009.60 523.11 2011.13 524.52C2012.66 525.92 2014.18 527.33 2015.74 528.68C2017.29 530.02 2018.85 531.35 2020.46 532.59C2022.05 533.82 2023.66 535.02 2025.33 536.11C2026.99 537.19 2028.68 538.21 2030.43 539.10C2032.17 539.99 2033.96 540.79 2035.80 541.44C2037.65 542.09 2039.60 542.48 2041.50 543.00" stroke="#2410c8" stroke-width="6.6" stroke-linecap="butt" stroke-dasharray="6.4 6.1"/>
<path d="M203.30 35.20C205.22 35.14 207.11 34.93 209.06 35.02C211.07 35.11 213.15 35.49 215.18 35.78C217.21 36.07 219.23 36.40 221.24 36.77C223.25 37.14 225.24 37.54 227.23 37.98C229.22 38.42 231.19 38.89 233.16 39.40C235.12 39.91 237.07 40.45 239.01 41.02C240.95 41.59 242.88 42.20 244.79 42.84C246.70 43.48 248.60 44.15 250.49 44.85C252.38 45.55 254.25 46.29 256.11 47.05C257.97 47.81 259.82 48.61 261.66 49.43C263.49 50.25 265.31 51.09 267.12 51.97C268.92 52.84 270.71 53.75 272.49 54.68C274.27 55.61 276.03 56.57 277.78 57.55C279.53 58.53 281.26 59.54 282.98 60.57C284.70 61.60 286.39 62.66 288.08 63.74C289.76 64.82 291.44 65.92 293.09 67.04C294.74 68.16 296.38 69.30 298.00 70.47C299.62 71.64 301.22 72.83 302.81 74.04C304.40 75.25 305.97 76.47 307.52 77.71C309.07 78.95 310.61 80.22 312.13 81.50C313.65 82.78 315.14 84.08 316.62 85.40C318.10 86.72 319.57 88.05 321.02 89.40C322.47 90.75 323.89 92.12 325.31 93.51C326.72 94.89 328.13 96.29 329.51 97.71C330.89 99.12 332.26 100.55 333.61 102.00C334.96 103.44 336.29 104.90 337.61 106.38C338.93 107.86 340.23 109.35 341.52 110.86C342.81 112.36 344.07 113.88 345.33 115.41C346.59 116.94 347.83 118.49 349.06 120.05C350.29 121.61 351.50 123.19 352.70 124.77C353.90 126.36 355.09 127.95 356.26 129.56C357.43 131.17 358.59 132.80 359.73 134.43C360.87 136.06 362.00 137.71 363.12 139.36C364.24 141.02 365.34 142.68 366.43 144.36C367.52 146.04 368.60 147.72 369.66 149.42C370.73 151.12 371.78 152.83 372.82 154.55C373.86 156.27 374.89 157.99 375.91 159.72C376.93 161.45 377.93 163.20 378.92 164.95C379.91 166.70 380.89 168.47 381.86 170.24C382.83 172.01 383.79 173.79 384.74 175.57C385.69 177.35 386.62 179.14 387.55 180.94C388.48 182.74 389.39 184.54 390.30 186.35C391.21 188.16 392.11 189.98 392.99 191.80C393.88 193.62 394.74 195.46 395.61 197.29C396.47 199.12 397.33 200.96 398.18 202.80C399.03 204.64 399.87 206.50 400.70 208.35C401.53 210.20 402.35 212.05 403.16 213.91C403.97 215.77 404.77 217.63 405.57 219.50C406.36 221.37 407.15 223.24 407.93 225.11C408.71 226.98 409.48 228.86 410.24 230.74C411.00 232.62 411.76 234.50 412.51 236.38C413.26 238.26 414.00 240.14 414.73 242.02C415.46 243.90 416.19 245.79 416.91 247.68C417.63 249.57 418.34 251.46 419.05 253.35C419.75 255.24 420.45 257.13 421.14 259.03C421.83 260.92 422.51 262.82 423.19 264.72C423.87 266.62 424.54 268.52 425.20 270.42C425.86 272.32 426.51 274.23 427.16 276.13C427.81 278.03 428.45 279.93 429.08 281.84C429.71 283.75 430.33 285.66 430.95 287.57C431.57 289.48 432.18 291.39 432.79 293.31C433.39 295.22 433.99 297.14 434.58 299.06C435.17 300.98 435.75 302.89 436.33 304.81C436.91 306.73 437.48 308.66 438.04 310.58C438.60 312.50 439.15 314.42 439.70 316.35C440.25 318.28 440.79 320.21 441.33 322.14C441.86 324.07 442.39 326.00 442.91 327.93C443.43 329.86 443.95 331.79 444.46 333.73C444.97 335.66 445.47 337.60 445.96 339.54C446.45 341.48 446.94 343.41 447.42 345.35C447.90 347.29 448.37 349.24 448.84 351.18C449.31 353.12 449.77 355.06 450.23 357.01C450.68 358.95 451.13 360.90 451.57 362.85C452.01 364.80 452.44 366.75 452.87 368.70C453.30 370.65 453.72 372.60 454.13 374.55C454.55 376.50 454.96 378.46 455.36 380.42C455.76 382.38 456.15 384.33 456.54 386.29C456.93 388.25 457.31 390.21 457.69 392.17C458.06 394.13 458.43 396.09 458.79 398.05C459.15 400.01 459.51 401.98 459.86 403.94C460.21 405.91 460.56 407.87 460.90 409.84C461.24 411.81 461.56 413.78 461.89 415.75C462.22 417.72 462.54 419.69 462.86 421.66C463.18 423.63 463.48 425.61 463.79 427.58C464.09 429.55 464.40 431.53 464.69 433.50C464.99 435.48 465.28 437.45 465.56 439.43C465.85 441.41 466.12 443.39 466.40 445.37C466.68 447.35 466.95 449.33 467.22 451.31C467.49 453.29 467.76 455.28 468.02 457.26C468.28 459.24 468.54 461.23 468.79 463.21C469.05 465.20 469.30 467.18 469.55 469.17C469.80 471.16 470.04 473.14 470.28 475.13C470.52 477.12 470.76 479.11 471.00 481.10C471.24 483.09 471.47 485.08 471.70 487.07C471.93 489.06 472.16 491.06 472.39 493.05C472.62 495.05 472.84 497.04 473.06 499.04C473.28 501.03 473.51 503.02 473.73 505.02C473.95 507.02 474.17 509.02 474.39 511.02C474.61 513.02 474.83 515.01 475.04 517.01C475.26 519.01 475.47 521.01 475.68 523.01C475.89 525.01 476.11 527.02 476.32 529.02C476.53 531.02 476.75 533.03 476.96 535.03C477.17 537.03 477.39 539.04 477.60 541.04C477.81 543.05 478.02 545.05 478.23 547.06C478.44 549.06 478.67 551.06 478.88 553.07C479.10 555.08 479.30 557.09 479.52 559.10C479.73 561.11 479.95 563.11 480.17 565.12C480.39 567.13 480.61 569.14 480.83 571.15C481.05 573.16 481.28 575.17 481.50 577.18C481.73 579.19 481.95 581.21 482.18 583.22C482.41 585.23 482.65 587.25 482.88 589.26C483.11 591.27 483.34 593.29 483.58 595.30C483.82 597.31 484.07 599.36 484.31 601.34C484.54 603.26 484.80 605.12 485.00 607.00C485.20 608.88 485.34 610.73 485.50 612.62C485.66 614.53 485.82 616.46 485.98 618.39C486.14 620.35 486.30 622.31 486.46 624.29C486.62 626.29 486.78 628.30 486.93 630.32C487.08 632.36 487.23 634.41 487.38 636.46C487.53 638.53 487.69 640.61 487.84 642.70C487.99 644.80 488.14 646.90 488.29 649.01C488.44 651.13 488.59 653.26 488.74 655.39C488.89 657.53 489.04 659.67 489.19 661.82C489.34 663.98 489.49 666.15 489.64 668.30C489.79 670.42 489.92 672.73 490.09 674.64C490.23 676.21 490.25 678.85 490.56 678.94C490.69 678.98 490.90 678.68 491.03 678.36C491.37 677.53 491.36 675.12 491.51 673.34C491.68 671.31 491.83 668.99 492.00 666.83C492.17 664.67 492.34 662.52 492.51 660.38C492.68 658.26 492.85 656.14 493.03 654.04C493.21 651.95 493.39 649.87 493.58 647.80C493.76 645.74 493.95 643.69 494.14 641.65C494.33 639.62 494.52 637.60 494.72 635.59C494.92 633.58 495.12 631.58 495.33 629.59C495.54 627.60 495.74 625.63 495.96 623.65C496.17 621.68 496.39 619.72 496.62 617.76C496.84 615.81 497.07 613.86 497.31 611.91C497.54 609.96 497.78 608.02 498.03 606.08C498.28 604.14 498.53 602.21 498.79 600.27C499.05 598.34 499.31 596.40 499.58 594.47C499.85 592.53 500.13 590.59 500.41 588.65C500.69 586.71 500.99 584.77 501.28 582.83C501.58 580.88 501.87 578.93 502.18 576.97C502.49 575.01 502.81 573.04 503.13 571.07C503.46 569.09 503.79 567.11 504.13 565.13C504.47 563.13 504.82 561.14 505.18 559.13C505.54 557.11 505.90 555.08 506.27 553.05C506.64 551.01 507.02 548.96 507.41 546.90C507.80 544.83 508.20 542.74 508.62 540.66C509.04 538.58 509.46 536.49 509.92 534.41C510.38 532.34 510.86 530.26 511.38 528.21C511.90 526.17 512.43 524.13 513.02 522.13C513.61 520.14 514.23 518.17 514.91 516.24C515.58 514.33 516.30 512.44 517.08 510.60C517.85 508.79 518.67 507.01 519.58 505.29C520.47 503.60 521.43 501.94 522.47 500.37C523.49 498.82 524.58 497.33 525.77 495.93C526.95 494.54 528.20 493.21 529.55 492.01C530.89 490.82 532.29 489.58 533.82 488.78C535.28 488.02 536.91 487.26 538.48 487.26C540.07 487.26 541.78 487.97 543.30 488.83C545.00 489.79 546.55 491.47 548.07 492.98C549.65 494.55 551.12 496.37 552.58 498.08C554.01 499.76 555.39 501.45 556.72 503.14C558.03 504.80 559.29 506.46 560.51 508.13C561.71 509.77 562.87 511.42 563.99 513.09C565.10 514.73 566.16 516.39 567.19 518.06C568.21 519.72 569.20 521.39 570.16 523.08C571.12 524.77 572.03 526.48 572.93 528.21C573.83 529.95 574.70 531.70 575.55 533.47C576.41 535.26 577.24 537.07 578.08 538.90C578.93 540.75 579.76 542.63 580.62 544.52C581.49 546.44 582.35 548.40 583.26 550.34C584.18 552.30 585.10 554.29 586.09 556.21C587.07 558.11 588.08 560.02 589.19 561.79C590.27 563.51 591.40 565.25 592.65 566.71C593.82 568.07 595.06 569.47 596.43 570.34C597.66 571.12 599.06 571.84 600.39 571.87C601.72 571.90 603.17 571.32 604.43 570.54C605.88 569.64 607.17 568.03 608.42 566.51C609.79 564.84 611.03 562.81 612.25 560.86C613.49 558.88 614.65 556.74 615.78 554.72C616.87 552.77 617.91 550.85 618.94 548.96C619.93 547.15 620.88 545.37 621.82 543.61C622.73 541.90 623.62 540.23 624.51 538.56C625.39 536.92 626.25 535.29 627.13 533.67C628.01 532.05 628.88 530.44 629.78 528.82C630.69 527.18 631.60 525.53 632.56 523.87C633.54 522.16 634.55 520.44 635.60 518.70C636.68 516.90 637.79 515.06 638.96 513.26C640.15 511.42 641.38 509.56 642.67 507.78C643.96 506.00 645.30 504.23 646.71 502.57C648.10 500.94 649.54 499.34 651.07 497.92C652.56 496.54 654.11 495.22 655.75 494.14C657.34 493.10 659.02 492.17 660.75 491.52C662.44 490.88 664.23 490.46 666.01 490.24C667.79 490.02 669.62 490.03 671.42 490.20C673.24 490.37 675.08 490.75 676.86 491.25C678.67 491.76 680.47 492.44 682.20 493.23C683.95 494.02 685.67 494.97 687.31 496.00C688.96 497.03 690.55 498.19 692.08 499.41C693.62 500.64 695.10 501.98 696.52 503.38C697.95 504.79 699.31 506.29 700.62 507.83C701.94 509.39 703.21 511.02 704.42 512.68C705.64 514.36 706.80 516.09 707.92 517.85C709.04 519.62 710.11 521.44 711.14 523.28C712.17 525.12 713.14 526.99 714.08 528.87C715.02 530.75 715.91 532.65 716.77 534.55C717.62 536.44 718.43 538.34 719.21 540.25C719.99 542.15 720.73 544.05 721.44 545.96C722.15 547.86 722.81 549.76 723.46 551.66C724.10 553.56 724.72 555.46 725.31 557.36C725.90 559.26 726.46 561.16 727.00 563.07C727.54 564.97 728.06 566.87 728.56 568.78C729.06 570.68 729.54 572.59 730.01 574.50C730.48 576.40 730.93 578.31 731.37 580.22C731.81 582.13 732.24 584.05 732.67 585.96C733.10 587.87 733.51 589.78 733.93 591.70C734.35 593.62 734.76 595.54 735.17 597.46C735.59 599.38 736.00 601.31 736.42 603.23C736.84 605.16 737.25 607.08 737.68 609.01C738.11 610.94 738.55 612.88 739.00 614.81C739.45 616.75 739.91 618.69 740.39 620.63C740.87 622.58 741.36 624.52 741.87 626.47C742.38 628.43 742.90 630.39 743.44 632.35C743.98 634.32 744.53 636.30 745.09 638.28C745.65 640.28 746.23 642.27 746.81 644.28C747.39 646.31 747.99 648.34 748.58 650.38C749.18 652.44 749.79 654.51 750.39 656.59C751.00 658.69 751.61 660.84 752.23 662.94C752.84 665.01 753.43 667.17 754.08 669.10C754.67 670.84 755.21 672.69 755.93 674.02C756.48 675.05 757.08 676.37 757.77 676.55C758.32 676.69 759.06 676.24 759.58 675.72C760.34 674.96 760.82 673.33 761.36 671.90C762.01 670.18 762.55 668.11 763.11 666.08C763.71 663.90 764.26 661.53 764.82 659.24C765.39 656.95 765.94 654.61 766.50 652.34C767.05 650.13 767.60 647.95 768.15 645.79C768.69 643.69 769.22 641.62 769.76 639.56C770.28 637.54 770.81 635.55 771.33 633.57C771.84 631.62 772.35 629.69 772.86 627.77C773.36 625.87 773.86 623.98 774.35 622.10C774.84 620.23 775.32 618.37 775.79 616.50C776.27 614.63 776.74 612.76 777.20 610.89C777.66 609.02 778.11 607.14 778.56 605.26C779.01 603.38 779.46 601.49 779.91 599.60C780.36 597.71 780.80 595.81 781.25 593.91C781.70 592.01 782.15 590.11 782.61 588.20C783.07 586.29 783.54 584.37 784.01 582.46C784.48 580.54 784.96 578.62 785.45 576.70C785.94 574.77 786.44 572.85 786.95 570.92C787.47 568.98 787.99 567.05 788.54 565.11C789.09 563.17 789.66 561.23 790.24 559.29C790.82 557.34 791.42 555.39 792.04 553.44C792.67 551.48 793.32 549.53 793.99 547.58C794.66 545.62 795.36 543.66 796.08 541.70C796.81 539.73 797.56 537.76 798.35 535.81C799.14 533.85 799.95 531.89 800.80 529.96C801.65 528.03 802.54 526.11 803.47 524.22C804.40 522.35 805.36 520.49 806.37 518.68C807.37 516.88 808.42 515.11 809.52 513.39C810.61 511.69 811.74 510.02 812.94 508.43C814.13 506.85 815.37 505.32 816.67 503.87C817.96 502.44 819.30 501.06 820.71 499.78C822.11 498.52 823.57 497.32 825.09 496.24C826.61 495.17 828.19 494.17 829.83 493.31C831.47 492.45 833.19 491.68 834.95 491.06C836.73 490.43 838.58 489.94 840.45 489.58C842.34 489.22 844.30 488.99 846.24 488.92C848.19 488.85 850.19 488.92 852.14 489.16C854.11 489.40 856.09 489.81 858.00 490.38C859.93 490.96 861.85 491.70 863.66 492.63C865.50 493.57 867.29 494.73 868.97 496.00C870.69 497.29 872.29 498.81 873.85 500.34C875.41 501.87 876.88 503.55 878.33 505.18C879.75 506.78 881.11 508.45 882.46 510.04C883.76 511.57 885.03 513.06 886.27 514.55C887.48 515.99 888.67 517.39 889.82 518.83C890.96 520.25 892.07 521.67 893.15 523.14C894.24 524.63 895.29 526.15 896.31 527.73C897.36 529.36 898.35 531.06 899.33 532.78C900.34 534.54 901.30 536.37 902.27 538.19C903.25 540.03 904.20 541.92 905.17 543.78C906.14 545.65 907.09 547.53 908.07 549.38C909.04 551.21 910.01 553.04 911.02 554.82C912.01 556.57 913.02 558.29 914.06 559.99C915.09 561.68 916.15 563.34 917.23 565.01C918.33 566.71 919.45 568.38 920.59 570.10C921.76 571.87 922.96 573.66 924.18 575.48C925.44 577.36 926.66 579.43 928.02 581.19C929.30 582.86 930.57 584.78 932.08 585.82C933.37 586.70 934.88 587.39 936.28 587.37C937.70 587.35 939.16 586.42 940.53 585.64C942.00 584.81 943.37 583.59 944.75 582.45C946.17 581.27 947.55 579.99 948.90 578.67C950.28 577.32 951.63 575.88 952.94 574.41C954.28 572.91 955.58 571.34 956.85 569.74C958.14 568.12 959.39 566.45 960.61 564.76C961.83 563.06 963.02 561.31 964.17 559.55C965.32 557.79 966.44 556.00 967.53 554.20C968.62 552.40 969.68 550.59 970.72 548.77C971.76 546.96 972.77 545.12 973.79 543.30C974.80 541.48 975.80 539.65 976.81 537.84C977.81 536.03 978.81 534.23 979.83 532.44C980.84 530.66 981.86 528.89 982.90 527.14C983.94 525.40 984.99 523.68 986.08 521.99C987.17 520.31 988.27 518.65 989.43 517.04C990.58 515.44 991.77 513.86 993.01 512.34C994.25 510.83 995.52 509.34 996.86 507.93C998.20 506.52 999.59 505.15 1001.05 503.86C1002.51 502.57 1004.04 501.33 1005.62 500.18C1007.21 499.02 1008.86 497.93 1010.56 496.93C1012.26 495.93 1014.03 495.00 1015.83 494.17C1017.63 493.34 1019.48 492.58 1021.35 491.93C1023.22 491.28 1025.14 490.73 1027.07 490.28C1029.00 489.83 1030.97 489.48 1032.94 489.24C1034.91 489.00 1036.90 488.87 1038.89 488.84C1040.88 488.81 1042.88 488.88 1044.86 489.06C1046.84 489.24 1048.83 489.53 1050.78 489.91C1052.73 490.30 1054.68 490.78 1056.58 491.37C1058.48 491.96 1060.36 492.66 1062.20 493.44C1064.05 494.22 1065.85 495.13 1067.63 496.07C1069.42 497.02 1071.17 498.05 1072.90 499.12C1074.64 500.19 1076.34 501.34 1078.04 502.49C1079.74 503.65 1081.42 504.85 1083.10 506.05C1084.77 507.25 1086.43 508.48 1088.09 509.69C1089.75 510.90 1091.39 512.12 1093.06 513.30C1094.71 514.47 1096.37 515.63 1098.05 516.74C1099.71 517.84 1101.38 518.93 1103.08 519.95C1104.76 520.97 1106.46 521.94 1108.18 522.86C1109.89 523.77 1111.63 524.64 1113.39 525.43C1115.15 526.22 1116.93 526.96 1118.74 527.61C1120.55 528.26 1122.38 528.85 1124.25 529.35C1126.13 529.85 1128.04 530.27 1129.97 530.59C1131.92 530.92 1133.91 531.14 1135.91 531.29C1137.94 531.44 1140.01 531.48 1142.08 531.48C1144.17 531.48 1146.29 531.39 1148.40 531.31C1150.52 531.23 1152.66 531.09 1154.79 530.98C1156.92 530.87 1159.06 530.73 1161.18 530.66C1163.29 530.59 1165.39 530.52 1167.48 530.55C1169.54 530.58 1171.59 530.63 1173.61 530.82C1175.59 531.01 1177.57 531.26 1179.49 531.66C1181.39 532.05 1183.26 532.57 1185.07 533.19C1186.87 533.81 1188.63 534.55 1190.34 535.38C1192.05 536.21 1193.70 537.16 1195.31 538.17C1196.92 539.19 1198.49 540.30 1200.00 541.48C1201.52 542.67 1202.99 543.94 1204.42 545.26C1205.86 546.59 1207.24 548.00 1208.58 549.44C1209.93 550.89 1211.22 552.41 1212.48 553.95C1213.74 555.50 1214.96 557.10 1216.14 558.73C1217.32 560.36 1218.46 562.04 1219.57 563.73C1220.68 565.43 1221.75 567.16 1222.79 568.91C1223.83 570.67 1224.82 572.45 1225.79 574.25C1226.76 576.06 1227.69 577.89 1228.60 579.73C1229.51 581.57 1230.38 583.44 1231.23 585.31C1232.08 587.18 1232.89 589.07 1233.68 590.96C1234.47 592.85 1235.22 594.75 1235.96 596.66C1236.70 598.56 1237.41 600.48 1238.10 602.39C1238.79 604.29 1239.45 606.19 1240.09 608.10C1240.73 610.00 1241.35 611.91 1241.95 613.82C1242.55 615.72 1243.13 617.62 1243.69 619.52C1244.25 621.42 1244.79 623.33 1245.32 625.24C1245.84 627.14 1246.35 629.05 1246.84 630.96C1247.33 632.87 1247.81 634.78 1248.28 636.70C1248.74 638.62 1249.19 640.54 1249.63 642.46C1250.07 644.38 1250.50 646.31 1250.92 648.24C1251.34 650.18 1251.75 652.12 1252.15 654.06C1252.55 656.01 1252.94 657.96 1253.32 659.91C1253.71 661.87 1254.09 663.84 1254.46 665.81C1254.84 667.79 1255.20 669.76 1255.57 671.75C1255.94 673.74 1256.30 675.74 1256.66 677.75C1257.02 679.77 1257.38 681.79 1257.74 683.82C1258.10 685.85 1258.45 687.90 1258.83 689.93C1259.21 691.97 1259.59 694.02 1260.04 696.04C1260.49 698.05 1260.96 700.06 1261.52 702.03C1262.08 703.98 1262.68 705.92 1263.41 707.79C1264.13 709.65 1264.94 711.49 1265.88 713.23C1266.82 714.97 1267.85 716.66 1269.05 718.23C1270.26 719.82 1272.15 722.92 1273.10 722.70C1274.05 722.48 1274.21 718.80 1274.73 716.85C1275.25 714.90 1275.74 712.95 1276.23 710.99C1276.71 709.04 1277.19 707.08 1277.64 705.12C1278.09 703.16 1278.52 701.20 1278.94 699.24C1279.36 697.28 1279.77 695.31 1280.17 693.35C1280.57 691.39 1280.96 689.43 1281.34 687.46C1281.72 685.50 1282.09 683.53 1282.45 681.56C1282.81 679.59 1283.17 677.63 1283.52 675.66C1283.87 673.69 1284.22 671.73 1284.57 669.76C1284.92 667.79 1285.26 665.82 1285.61 663.85C1285.96 661.88 1286.30 659.92 1286.65 657.95C1287.00 655.98 1287.34 654.02 1287.70 652.05C1288.06 650.08 1288.42 648.12 1288.79 646.15C1289.16 644.19 1289.53 642.22 1289.91 640.26C1290.30 638.30 1290.69 636.33 1291.10 634.37C1291.51 632.41 1291.92 630.46 1292.35 628.50C1292.78 626.54 1293.22 624.58 1293.68 622.63C1294.14 620.67 1294.62 618.72 1295.12 616.77C1295.62 614.82 1296.13 612.87 1296.66 610.92C1297.20 608.97 1297.76 607.03 1298.33 605.09C1298.91 603.15 1299.50 601.21 1300.11 599.27C1300.73 597.33 1301.37 595.40 1302.02 593.47C1302.68 591.54 1303.35 589.60 1304.04 587.68C1304.73 585.75 1305.44 583.84 1306.17 581.92C1306.90 580.00 1307.65 578.08 1308.41 576.17C1309.18 574.26 1309.96 572.35 1310.76 570.45C1311.56 568.54 1312.38 566.64 1313.21 564.74C1314.04 562.84 1314.89 560.96 1315.76 559.07C1316.63 557.18 1317.51 555.29 1318.41 553.41C1319.31 551.53 1320.23 549.66 1321.17 547.80C1322.11 545.94 1323.06 544.09 1324.05 542.26C1325.03 540.44 1326.04 538.63 1327.08 536.85C1328.12 535.08 1329.19 533.32 1330.30 531.61C1331.41 529.90 1332.55 528.22 1333.74 526.59C1334.93 524.97 1336.15 523.38 1337.43 521.84C1338.70 520.31 1340.01 518.82 1341.38 517.40C1342.75 515.98 1344.16 514.61 1345.64 513.32C1347.12 512.03 1348.65 510.80 1350.24 509.65C1351.83 508.51 1353.48 507.42 1355.17 506.45C1356.86 505.48 1358.61 504.59 1360.39 503.83C1362.15 503.08 1363.97 502.41 1365.80 501.91C1367.61 501.41 1369.47 501.04 1371.32 500.83C1373.16 500.62 1375.03 500.57 1376.88 500.67C1378.72 500.77 1380.58 501.03 1382.39 501.42C1384.21 501.81 1386.01 502.35 1387.77 503.00C1389.54 503.65 1391.28 504.45 1392.96 505.34C1394.65 506.24 1396.30 507.27 1397.89 508.38C1399.49 509.50 1401.04 510.73 1402.51 512.03C1403.99 513.34 1405.41 514.76 1406.76 516.23C1408.11 517.71 1409.39 519.28 1410.60 520.89C1411.82 522.52 1412.97 524.22 1414.06 525.95C1415.16 527.70 1416.18 529.50 1417.17 531.33C1418.16 533.17 1419.09 535.05 1419.99 536.95C1420.89 538.86 1421.75 540.80 1422.57 542.75C1423.40 544.70 1424.17 546.68 1424.94 548.65C1425.71 550.62 1426.45 552.59 1427.17 554.57C1427.89 556.54 1428.60 558.51 1429.28 560.49C1429.96 562.46 1430.62 564.43 1431.26 566.40C1431.90 568.36 1432.53 570.32 1433.14 572.29C1433.75 574.25 1434.34 576.21 1434.91 578.18C1435.48 580.14 1436.04 582.11 1436.58 584.07C1437.12 586.03 1437.65 587.99 1438.16 589.95C1438.67 591.91 1439.17 593.86 1439.65 595.82C1440.13 597.78 1440.59 599.74 1441.05 601.70C1441.50 603.66 1441.95 605.61 1442.38 607.57C1442.81 609.53 1443.22 611.48 1443.63 613.44C1444.04 615.40 1444.43 617.36 1444.82 619.32C1445.20 621.28 1445.57 623.24 1445.94 625.20C1446.30 627.16 1446.66 629.12 1447.01 631.08C1447.36 633.04 1447.69 635.01 1448.02 636.97C1448.35 638.93 1448.68 640.90 1449.00 642.86C1449.32 644.83 1449.63 646.79 1449.93 648.76C1450.23 650.73 1450.53 652.70 1450.82 654.67C1451.11 656.64 1451.40 658.62 1451.69 660.59C1451.98 662.57 1452.26 664.54 1452.54 666.52C1452.82 668.50 1453.08 670.48 1453.35 672.46C1453.62 674.44 1453.88 676.43 1454.14 678.41C1454.40 680.40 1454.66 682.38 1454.91 684.37C1455.16 686.36 1455.41 688.35 1455.65 690.34C1455.89 692.33 1456.13 694.33 1456.37 696.32C1456.61 698.31 1456.84 700.30 1457.07 702.30C1457.30 704.30 1457.53 706.30 1457.75 708.30C1457.97 710.30 1458.19 712.30 1458.40 714.30C1458.61 716.30 1458.82 718.30 1459.03 720.30C1459.24 722.30 1459.44 724.31 1459.64 726.32C1459.84 728.33 1460.04 730.33 1460.23 732.34C1460.42 734.35 1460.61 736.35 1460.80 738.36C1460.99 740.37 1461.17 742.38 1461.35 744.39C1461.53 746.40 1461.71 748.42 1461.89 750.43C1462.06 752.44 1462.23 754.46 1462.40 756.47C1462.57 758.48 1462.74 760.50 1462.90 762.51C1463.06 764.53 1463.22 766.54 1463.38 768.56C1463.54 770.58 1463.69 772.59 1463.84 774.61C1463.99 776.63 1464.14 778.64 1464.29 780.66C1464.44 782.68 1464.58 784.70 1464.72 786.72C1464.86 788.74 1465.00 790.76 1465.14 792.78C1465.28 794.80 1465.42 796.82 1465.55 798.84C1465.68 800.86 1465.81 802.88 1465.94 804.90C1466.07 806.92 1466.19 808.94 1466.31 810.96C1466.43 812.98 1466.56 815.00 1466.68 817.02C1466.80 819.04 1466.91 821.06 1467.03 823.08C1467.14 825.10 1467.26 827.12 1467.37 829.14C1467.48 831.16 1467.59 833.18 1467.70 835.20C1467.81 837.22 1467.91 839.24 1468.02 841.26C1468.12 843.28 1468.23 845.30 1468.33 847.32C1468.43 849.34 1468.53 851.35 1468.63 853.37C1468.73 855.39 1468.82 857.40 1468.92 859.42C1469.01 861.44 1469.11 863.45 1469.20 865.47C1469.29 867.49 1469.38 869.50 1469.47 871.52C1469.56 873.53 1469.65 875.55 1469.74 877.56C1469.83 879.57 1469.86 883.60 1470.00 883.60C1470.14 883.60 1470.38 879.61 1470.57 877.62C1470.75 875.63 1470.93 873.63 1471.11 871.64C1471.29 869.65 1471.46 867.65 1471.63 865.66C1471.80 863.67 1471.96 861.67 1472.12 859.68C1472.28 857.68 1472.43 855.69 1472.58 853.69C1472.73 851.70 1472.89 849.70 1473.03 847.71C1473.18 845.71 1473.31 843.72 1473.45 841.72C1473.59 839.72 1473.72 837.73 1473.86 835.73C1473.99 833.73 1474.13 831.74 1474.26 829.74C1474.39 827.74 1474.52 825.75 1474.64 823.75C1474.77 821.75 1474.89 819.75 1475.01 817.75C1475.13 815.75 1475.25 813.76 1475.37 811.76C1475.49 809.76 1475.60 807.77 1475.72 805.77C1475.84 803.77 1475.95 801.78 1476.07 799.78C1476.19 797.78 1476.30 795.78 1476.42 793.78C1476.53 791.78 1476.65 789.79 1476.76 787.79C1476.88 785.79 1476.99 783.80 1477.11 781.80C1477.23 779.80 1477.34 777.81 1477.46 775.81C1477.58 773.81 1477.69 771.82 1477.81 769.82C1477.93 767.82 1478.05 765.83 1478.17 763.83C1478.29 761.83 1478.41 759.84 1478.54 757.84C1478.66 755.85 1478.79 753.85 1478.92 751.86C1479.05 749.86 1479.18 747.87 1479.31 745.87C1479.44 743.88 1479.58 741.88 1479.72 739.89C1479.86 737.90 1480.00 735.90 1480.14 733.91C1480.28 731.92 1480.43 729.92 1480.58 727.93C1480.73 725.94 1480.88 723.95 1481.04 721.96C1481.20 719.97 1481.36 717.97 1481.53 715.98C1481.70 713.99 1481.87 712.00 1482.04 710.01C1482.21 708.02 1482.39 706.04 1482.57 704.05C1482.75 702.06 1482.95 700.07 1483.14 698.08C1483.33 696.09 1483.53 694.11 1483.73 692.12C1483.93 690.14 1484.15 688.15 1484.36 686.17C1484.58 684.18 1484.79 682.19 1485.02 680.21C1485.25 678.23 1485.48 676.25 1485.72 674.27C1485.96 672.29 1486.20 670.30 1486.45 668.32C1486.70 666.34 1486.96 664.36 1487.23 662.38C1487.50 660.40 1487.77 658.43 1488.05 656.45C1488.33 654.47 1488.62 652.50 1488.91 650.52C1489.21 648.54 1489.51 646.57 1489.82 644.59C1490.13 642.62 1490.45 640.64 1490.78 638.67C1491.11 636.70 1491.45 634.73 1491.79 632.76C1492.14 630.79 1492.49 628.82 1492.85 626.85C1493.21 624.88 1493.58 622.92 1493.96 620.95C1494.34 618.98 1494.73 617.01 1495.13 615.05C1495.53 613.08 1495.94 611.12 1496.36 609.16C1496.78 607.20 1497.20 605.24 1497.64 603.28C1498.08 601.32 1498.53 599.36 1498.99 597.40C1499.45 595.44 1499.93 593.48 1500.41 591.53C1500.89 589.57 1501.39 587.62 1501.89 585.67C1502.40 583.72 1502.91 581.76 1503.44 579.81C1503.97 577.86 1504.50 575.91 1505.05 573.96C1505.60 572.01 1506.17 570.07 1506.75 568.13C1507.33 566.19 1507.93 564.26 1508.55 562.34C1509.17 560.42 1509.81 558.50 1510.47 556.59C1511.13 554.69 1511.82 552.80 1512.53 550.92C1513.24 549.04 1513.98 547.18 1514.75 545.33C1515.52 543.49 1516.32 541.65 1517.15 539.84C1517.98 538.03 1518.84 536.24 1519.74 534.48C1520.64 532.72 1521.58 530.98 1522.56 529.26C1523.54 527.55 1524.55 525.85 1525.61 524.19C1526.67 522.53 1527.76 520.90 1528.91 519.30C1530.06 517.70 1531.26 516.14 1532.50 514.61C1533.75 513.08 1535.04 511.58 1536.38 510.12C1537.73 508.66 1539.12 507.23 1540.57 505.86C1542.03 504.48 1543.54 503.14 1545.10 501.85C1546.68 500.55 1548.31 499.28 1549.99 498.10C1551.67 496.91 1553.41 495.77 1555.19 494.74C1556.96 493.72 1558.78 492.75 1560.64 491.95C1562.47 491.16 1564.36 490.46 1566.26 489.95C1568.14 489.45 1570.06 489.07 1571.97 488.92C1573.87 488.77 1575.81 488.82 1577.70 489.05C1579.61 489.28 1581.52 489.74 1583.38 490.31C1585.26 490.88 1587.12 491.64 1588.93 492.48C1590.75 493.33 1592.54 494.33 1594.27 495.37C1596.00 496.42 1597.69 497.57 1599.32 498.75C1600.94 499.93 1602.51 501.17 1604.04 502.45C1605.56 503.72 1607.04 505.04 1608.49 506.38C1609.94 507.72 1611.34 509.11 1612.74 510.51C1614.14 511.91 1615.50 513.34 1616.87 514.77C1618.24 516.21 1619.60 517.67 1620.97 519.12C1622.35 520.58 1623.71 522.05 1625.11 523.50C1626.51 524.96 1627.92 526.42 1629.37 527.86C1630.83 529.31 1632.30 530.75 1633.83 532.15C1635.37 533.57 1636.94 534.97 1638.57 536.32C1640.21 537.69 1641.91 539.04 1643.64 540.30C1645.37 541.56 1647.15 542.78 1648.95 543.89C1650.73 544.98 1652.54 546.03 1654.38 546.91C1656.17 547.77 1658.01 548.56 1659.84 549.15C1661.61 549.72 1663.41 550.18 1665.19 550.40C1666.91 550.61 1668.65 550.66 1670.32 550.47C1671.97 550.28 1673.61 549.85 1675.18 549.28C1676.78 548.70 1678.32 547.90 1679.82 547.01C1681.36 546.09 1682.85 544.99 1684.30 543.84C1685.80 542.65 1687.23 541.32 1688.66 539.96C1690.13 538.57 1691.55 537.08 1692.98 535.58C1694.44 534.05 1695.87 532.45 1697.32 530.87C1698.78 529.27 1700.23 527.63 1701.72 526.03C1703.21 524.43 1704.71 522.81 1706.25 521.26C1707.79 519.71 1709.35 518.18 1710.97 516.74C1712.58 515.32 1714.22 513.93 1715.93 512.67C1717.62 511.42 1719.38 510.26 1721.17 509.20C1722.95 508.15 1724.78 507.19 1726.63 506.34C1728.46 505.50 1730.34 504.76 1732.23 504.13C1734.10 503.51 1736.01 502.99 1737.92 502.58C1739.81 502.18 1741.72 501.88 1743.62 501.70C1745.50 501.52 1747.40 501.45 1749.27 501.51C1751.13 501.57 1752.98 501.73 1754.80 502.03C1756.61 502.32 1758.40 502.74 1760.14 503.27C1761.88 503.80 1763.58 504.47 1765.24 505.23C1766.90 505.99 1768.53 506.88 1770.10 507.85C1771.69 508.83 1773.22 509.92 1774.71 511.08C1776.22 512.25 1777.68 513.52 1779.09 514.85C1780.52 516.19 1781.90 517.62 1783.23 519.09C1784.58 520.58 1785.88 522.14 1787.14 523.74C1788.41 525.35 1789.64 527.03 1790.82 528.73C1792.01 530.45 1793.16 532.21 1794.27 534.00C1795.39 535.80 1796.47 537.63 1797.51 539.48C1798.55 541.33 1799.55 543.22 1800.52 545.11C1801.49 547.00 1802.42 548.91 1803.32 550.83C1804.21 552.73 1805.07 554.65 1805.90 556.57C1806.72 558.47 1807.52 560.37 1808.28 562.28C1809.04 564.17 1809.76 566.06 1810.47 567.96C1811.17 569.85 1811.85 571.74 1812.51 573.63C1813.16 575.51 1813.79 577.39 1814.40 579.28C1815.01 581.16 1815.60 583.04 1816.18 584.92C1816.76 586.80 1817.31 588.68 1817.86 590.56C1818.41 592.44 1818.94 594.32 1819.47 596.20C1820.00 598.08 1820.52 599.97 1821.03 601.85C1821.55 603.74 1822.05 605.62 1822.56 607.51C1823.07 609.40 1823.57 611.29 1824.08 613.19C1824.59 615.09 1825.10 616.99 1825.62 618.90C1826.14 620.81 1826.66 622.73 1827.19 624.64C1827.73 626.56 1828.27 628.48 1828.83 630.41C1829.39 632.35 1829.96 634.29 1830.55 636.23C1831.14 638.18 1831.74 640.14 1832.37 642.10C1833.00 644.07 1833.65 646.04 1834.32 648.02C1835.00 650.01 1835.68 652.02 1836.41 654.00C1837.13 655.97 1837.86 658.01 1838.67 659.87C1839.42 661.61 1840.17 663.41 1841.07 664.83C1841.83 666.04 1842.61 667.37 1843.57 667.94C1844.34 668.40 1845.34 668.64 1846.12 668.41C1846.99 668.16 1847.81 667.16 1848.49 666.21C1849.33 665.05 1849.92 663.37 1850.53 661.75C1851.21 659.93 1851.75 657.85 1852.30 655.81C1852.88 653.67 1853.39 651.40 1853.91 649.18C1854.43 646.96 1854.92 644.72 1855.42 642.51C1855.92 640.32 1856.40 638.14 1856.92 635.98C1857.43 633.85 1857.95 631.74 1858.49 629.64C1859.02 627.57 1859.56 625.52 1860.12 623.48C1860.67 621.47 1861.25 619.47 1861.83 617.49C1862.41 615.53 1863.00 613.58 1863.60 611.65C1864.20 609.73 1864.81 607.83 1865.43 605.93C1866.05 604.05 1866.68 602.18 1867.32 600.32C1867.96 598.47 1868.61 596.63 1869.27 594.80C1869.93 592.98 1870.60 591.16 1871.28 589.35C1871.96 587.55 1872.64 585.75 1873.33 583.96C1874.02 582.17 1874.73 580.38 1875.44 578.60C1876.15 576.82 1876.87 575.04 1877.59 573.26C1878.32 571.48 1879.05 569.69 1879.79 567.91C1880.53 566.12 1881.27 564.34 1882.02 562.55C1882.77 560.75 1883.53 558.95 1884.29 557.14C1885.06 555.32 1885.83 553.51 1886.60 551.68C1887.38 549.84 1888.15 548.00 1888.93 546.15C1889.72 544.28 1890.51 542.40 1891.30 540.51C1892.10 538.61 1892.89 536.69 1893.71 534.79C1894.53 532.88 1895.36 530.96 1896.23 529.06C1897.10 527.16 1897.99 525.26 1898.93 523.40C1899.87 521.54 1900.84 519.70 1901.89 517.91C1902.93 516.13 1904.02 514.36 1905.19 512.67C1906.36 510.98 1907.58 509.33 1908.90 507.77C1910.22 506.21 1911.60 504.71 1913.09 503.31C1914.59 501.90 1916.18 500.56 1917.85 499.35C1919.54 498.13 1921.33 497.01 1923.17 496.01C1925.02 495.01 1926.95 494.11 1928.91 493.36C1930.85 492.61 1932.86 491.97 1934.87 491.49C1936.85 491.02 1938.87 490.67 1940.86 490.50C1942.81 490.34 1944.77 490.31 1946.68 490.47C1948.55 490.62 1950.41 490.95 1952.21 491.42C1954.00 491.88 1955.74 492.52 1957.43 493.26C1959.12 494.00 1960.77 494.89 1962.36 495.86C1963.96 496.84 1965.51 497.94 1967.00 499.10C1968.51 500.27 1969.95 501.54 1971.36 502.86C1972.78 504.19 1974.15 505.59 1975.47 507.03C1976.80 508.48 1978.08 510.00 1979.32 511.55C1980.57 513.11 1981.77 514.73 1982.93 516.37C1984.10 518.02 1985.21 519.72 1986.30 521.44C1987.39 523.16 1988.44 524.91 1989.46 526.68C1990.48 528.45 1991.45 530.25 1992.40 532.05C1993.35 533.85 1994.26 535.67 1995.15 537.50C1996.03 539.32 1996.89 541.16 1997.71 543.00C1998.53 544.84 1999.32 546.69 2000.09 548.55C2000.85 550.41 2001.59 552.28 2002.30 554.16C2003.01 556.04 2003.70 557.92 2004.36 559.81C2005.02 561.70 2005.66 563.60 2006.27 565.50C2006.88 567.40 2007.47 569.31 2008.04 571.23C2008.61 573.15 2009.17 575.07 2009.70 577.00C2010.23 578.93 2010.74 580.86 2011.23 582.80C2011.73 584.74 2012.21 586.68 2012.67 588.63C2013.13 590.58 2013.58 592.53 2014.01 594.48C2014.44 596.43 2014.86 598.39 2015.27 600.35C2015.68 602.31 2016.07 604.27 2016.46 606.23C2016.85 608.19 2017.22 610.16 2017.59 612.13C2017.96 614.10 2018.32 616.07 2018.67 618.04C2019.02 620.01 2019.36 621.98 2019.70 623.95C2020.04 625.92 2020.37 627.90 2020.70 629.87C2021.02 631.84 2021.34 633.82 2021.65 635.79C2021.96 637.77 2022.27 639.74 2022.57 641.72C2022.87 643.70 2023.16 645.67 2023.45 647.65C2023.74 649.63 2024.01 651.61 2024.29 653.59C2024.56 655.57 2024.84 657.55 2025.10 659.53C2025.37 661.51 2025.63 663.50 2025.88 665.48C2026.13 667.46 2026.38 669.45 2026.62 671.43C2026.86 673.42 2027.10 675.40 2027.33 677.39C2027.56 679.38 2027.79 681.36 2028.01 683.35C2028.23 685.34 2028.45 687.32 2028.66 689.31C2028.87 691.30 2029.08 693.29 2029.28 695.28C2029.48 697.27 2029.68 699.26 2029.88 701.25C2030.07 703.24 2030.27 705.23 2030.45 707.22C2030.64 709.21 2030.81 711.21 2030.99 713.20C2031.17 715.19 2031.34 717.19 2031.51 719.18C2031.68 721.17 2031.85 723.17 2032.01 725.16C2032.17 727.15 2032.34 729.15 2032.49 731.14C2032.65 733.14 2032.79 735.13 2032.94 737.13C2033.09 739.13 2033.24 741.12 2033.38 743.12C2033.52 745.12 2033.66 747.11 2033.80 749.11C2033.94 751.11 2034.07 753.10 2034.20 755.10C2034.33 757.10 2034.46 759.10 2034.59 761.10C2034.72 763.10 2034.84 765.09 2034.96 767.09C2035.08 769.09 2035.20 771.09 2035.32 773.09C2035.44 775.09 2035.55 777.09 2035.67 779.09C2035.78 781.09 2035.90 783.09 2036.01 785.09C2036.12 787.09 2036.23 789.09 2036.34 791.09C2036.45 793.09 2036.55 795.08 2036.65 797.08C2036.75 799.08 2036.86 801.09 2036.96 803.09C2037.06 805.09 2037.17 807.09 2037.27 809.09C2037.37 811.09 2037.47 813.09 2037.57 815.09C2037.67 817.09 2037.76 819.09 2037.86 821.09C2037.96 823.09 2038.05 825.09 2038.15 827.09C2038.25 829.09 2038.34 831.08 2038.44 833.08C2038.54 835.08 2038.63 837.08 2038.73 839.08C2038.83 841.08 2038.92 843.08 2039.02 845.08C2039.12 847.08 2039.22 849.08 2039.32 851.08C2039.42 853.08 2039.51 855.07 2039.61 857.07C2039.71 859.07 2039.81 861.06 2039.91 863.06C2040.01 865.06 2040.11 867.05 2040.21 869.05C2040.31 871.05 2040.42 873.04 2040.52 875.04C2040.63 877.04 2040.73 879.03 2040.84 881.03C2040.95 883.03 2041.05 885.02 2041.16 887.02C2041.27 889.01 2041.39 891.01 2041.50 893.00" stroke="#000000" stroke-width="6.4" stroke-linecap="butt" stroke-dasharray="27.6 6.5 13.6 6.6"/>
<path d="M203.30 35.20C205.22 35.14 207.11 34.93 209.06 35.02C211.07 35.11 213.15 35.49 215.18 35.78C217.21 36.07 219.23 36.40 221.24 36.77C223.25 37.14 225.24 37.54 227.23 37.98C229.22 38.42 231.19 38.89 233.16 39.40C235.12 39.91 237.07 40.45 239.01 41.02C240.95 41.59 242.88 42.20 244.79 42.84C246.70 43.48 248.60 44.15 250.49 44.85C252.38 45.55 254.25 46.29 256.11 47.05C257.97 47.81 259.82 48.61 261.66 49.43C263.49 50.25 265.31 51.09 267.12 51.97C268.92 52.84 270.71 53.75 272.49 54.68C274.27 55.61 276.03 56.57 277.78 57.55C279.53 58.53 281.26 59.54 282.98 60.57C284.70 61.60 286.39 62.66 288.08 63.74C289.76 64.82 291.44 65.92 293.09 67.04C294.74 68.16 296.38 69.30 298.00 70.47C299.62 71.64 301.22 72.83 302.81 74.04C304.40 75.25 305.97 76.47 307.52 77.71C309.07 78.95 310.61 80.22 312.13 81.50C313.65 82.78 315.14 84.08 316.62 85.40C318.10 86.72 319.57 88.05 321.02 89.40C322.47 90.75 323.89 92.12 325.31 93.51C326.72 94.89 328.13 96.29 329.51 97.71C330.89 99.12 332.26 100.55 333.61 102.00C334.96 103.44 336.29 104.90 337.61 106.38C338.93 107.86 340.23 109.35 341.52 110.86C342.81 112.36 344.07 113.88 345.33 115.41C346.59 116.94 347.83 118.49 349.06 120.05C350.29 121.61 351.50 123.19 352.70 124.77C353.90 126.36 355.09 127.95 356.26 129.56C357.43 131.17 358.59 132.80 359.73 134.43C360.87 136.06 362.00 137.71 363.12 139.36C364.24 141.02 365.34 142.68 366.43 144.36C367.52 146.04 368.60 147.72 369.66 149.42C370.73 151.12 371.78 152.83 372.82 154.55C373.86 156.27 374.89 157.99 375.91 159.72C376.93 161.45 377.93 163.20 378.92 164.95C379.91 166.70 380.89 168.47 381.86 170.24C382.83 172.01 383.79 173.79 384.74 175.57C385.69 177.35 386.62 179.14 387.55 180.94C388.48 182.74 389.39 184.54 390.30 186.35C391.21 188.16 392.11 189.98 392.99 191.80C393.88 193.62 394.74 195.46 395.61 197.29C396.47 199.12 397.33 200.96 398.18 202.80C399.03 204.64 399.87 206.50 400.70 208.35C401.53 210.20 402.35 212.05 403.16 213.91C403.97 215.77 404.77 217.63 405.57 219.50C406.36 221.37 407.15 223.24 407.93 225.11C408.71 226.98 409.48 228.86 410.24 230.74C411.00 232.62 411.76 234.50 412.51 236.38C413.26 238.26 414.00 240.14 414.73 242.02C415.46 243.90 416.19 245.79 416.91 247.68C417.63 249.57 418.34 251.46 419.05 253.35C419.75 255.24 420.45 257.13 421.14 259.03C421.83 260.92 422.51 262.82 423.19 264.72C423.87 266.62 424.54 268.52 425.20 270.42C425.86 272.32 426.51 274.23 427.16 276.13C427.81 278.03 428.45 279.93 429.08 281.84C429.71 283.75 430.33 285.66 430.95 287.57C431.57 289.48 432.18 291.39 432.79 293.31C433.39 295.22 433.99 297.14 434.58 299.06C435.17 300.98 435.75 302.89 436.33 304.81C436.91 306.73 437.48 308.66 438.04 310.58C438.60 312.50 439.15 314.42 439.70 316.35C440.25 318.28 440.79 320.21 441.33 322.14C441.86 324.07 442.39 326.00 442.91 327.93C443.43 329.86 443.95 331.79 444.46 333.73C444.97 335.66 445.47 337.60 445.96 339.54C446.45 341.48 446.94 343.41 447.42 345.35C447.90 347.29 448.37 349.24 448.84 351.18C449.31 353.12 449.77 355.06 450.23 357.01C450.68 358.95 451.13 360.90 451.57 362.85C452.01 364.80 452.44 366.75 452.87 368.70C453.30 370.65 453.72 372.60 454.13 374.55C454.55 376.50 454.96 378.46 455.36 380.42C455.76 382.38 456.15 384.33 456.54 386.29C456.93 388.25 457.31 390.21 457.69 392.17C458.06 394.13 458.43 396.09 458.79 398.05C459.15 400.01 459.51 401.98 459.86 403.94C460.21 405.91 460.56 407.87 460.90 409.84C461.24 411.81 461.56 413.78 461.89 415.75C462.22 417.72 462.54 419.69 462.86 421.66C463.18 423.63 463.48 425.61 463.79 427.58C464.09 429.55 464.40 431.53 464.69 433.50C464.99 435.48 465.28 437.45 465.56 439.43C465.85 441.41 466.12 443.39 466.40 445.37C466.68 447.35 466.95 449.33 467.22 451.31C467.49 453.29 467.76 455.28 468.02 457.26C468.28 459.24 468.54 461.23 468.79 463.21C469.05 465.20 469.30 467.18 469.55 469.17C469.80 471.16 470.04 473.14 470.28 475.13C470.52 477.12 470.76 479.11 471.00 481.10C471.24 483.09 471.47 485.08 471.70 487.07C471.93 489.06 472.16 491.06 472.39 493.05C472.62 495.05 472.84 497.04 473.06 499.04C473.28 501.03 473.51 503.02 473.73 505.02C473.95 507.02 474.17 509.02 474.39 511.02C474.61 513.02 474.83 515.01 475.04 517.01C475.26 519.01 475.47 521.01 475.68 523.01C475.89 525.01 476.11 527.02 476.32 529.02C476.53 531.02 476.75 533.03 476.96 535.03C477.17 537.03 477.39 539.04 477.60 541.04C477.81 543.05 478.02 545.05 478.23 547.06C478.44 549.06 478.67 551.06 478.88 553.07C479.10 555.08 479.30 557.09 479.52 559.10C479.73 561.11 479.95 563.11 480.17 565.12C480.39 567.13 480.61 569.14 480.83 571.15C481.05 573.16 481.28 575.17 481.50 577.18C481.73 579.19 481.95 581.21 482.18 583.22C482.41 585.23 482.65 587.25 482.88 589.26C483.11 591.27 483.34 593.29 483.58 595.30C483.82 597.31 484.07 599.36 484.31 601.34C484.54 603.26 484.61 605.82 485.00 607.00C485.19 607.59 485.50 607.66 485.69 608.23C486.04 609.27 486.16 611.19 486.37 612.91C486.62 615.02 486.83 617.52 487.04 619.98C487.27 622.66 487.48 625.55 487.70 628.37C487.92 631.23 488.13 634.21 488.36 637.03C488.58 639.72 488.78 642.45 489.02 644.90C489.23 647.04 489.41 649.24 489.68 650.91C489.88 652.12 490.01 653.91 490.35 654.01C490.54 654.06 490.83 653.68 491.02 653.32C491.39 652.59 491.50 650.93 491.71 649.54C491.97 647.84 492.18 645.82 492.41 643.83C492.66 641.67 492.89 639.33 493.13 637.05C493.38 634.74 493.62 632.37 493.87 630.05C494.12 627.77 494.37 625.50 494.63 623.25C494.89 621.03 495.15 618.83 495.42 616.64C495.69 614.48 495.97 612.34 496.25 610.21C496.53 608.11 496.81 606.02 497.10 603.94C497.39 601.88 497.68 599.84 497.99 597.81C498.29 595.79 498.61 593.79 498.93 591.79C499.25 589.81 499.57 587.84 499.90 585.87C500.23 583.92 500.57 581.97 500.92 580.03C501.27 578.10 501.62 576.17 501.99 574.25C502.35 572.33 502.73 570.42 503.11 568.51C503.49 566.60 503.89 564.70 504.29 562.79C504.69 560.88 505.10 558.98 505.52 557.07C505.94 555.16 506.37 553.25 506.81 551.33C507.25 549.41 507.71 547.48 508.17 545.55C508.64 543.61 509.11 541.66 509.60 539.71C510.09 537.74 510.59 535.78 511.10 533.80C511.61 531.80 512.13 529.80 512.67 527.79C513.21 525.76 513.76 523.71 514.33 521.67C514.91 519.62 515.48 517.55 516.12 515.52C516.76 513.49 517.42 511.46 518.16 509.47C518.89 507.49 519.66 505.53 520.53 503.63C521.39 501.75 522.29 499.90 523.32 498.14C524.33 496.40 525.41 494.66 526.64 493.14C527.83 491.68 529.10 490.17 530.57 489.17C531.97 488.22 533.59 487.43 535.22 487.22C536.89 487.00 538.79 487.38 540.49 487.94C542.28 488.53 544.07 489.63 545.65 490.79C547.26 491.96 548.67 493.48 550.05 494.95C551.44 496.43 552.71 498.04 553.95 499.66C555.20 501.28 556.38 502.96 557.52 504.66C558.66 506.37 559.74 508.12 560.78 509.90C561.82 511.68 562.81 513.50 563.76 515.34C564.71 517.18 565.62 519.05 566.48 520.94C567.34 522.83 568.16 524.75 568.94 526.67C569.72 528.60 570.47 530.54 571.18 532.49C571.89 534.43 572.56 536.38 573.21 538.34C573.85 540.29 574.46 542.24 575.05 544.20C575.63 546.15 576.19 548.11 576.72 550.07C577.25 552.02 577.75 553.98 578.23 555.94C578.71 557.90 579.17 559.86 579.62 561.82C580.06 563.78 580.49 565.74 580.90 567.70C581.31 569.66 581.70 571.63 582.08 573.59C582.46 575.55 582.83 577.51 583.19 579.48C583.55 581.45 583.90 583.42 584.25 585.39C584.60 587.36 584.93 589.33 585.27 591.31C585.61 593.29 585.94 595.27 586.28 597.25C586.62 599.23 586.96 601.21 587.29 603.19C587.63 605.17 587.96 607.16 588.29 609.15C588.62 611.14 588.96 613.13 589.29 615.12C589.62 617.11 589.95 619.11 590.28 621.10C590.61 623.10 590.93 625.09 591.25 627.09C591.57 629.09 591.89 631.09 592.21 633.09C592.53 635.09 592.85 637.10 593.16 639.10C593.47 641.11 593.78 643.11 594.08 645.12C594.38 647.13 594.69 649.13 594.98 651.14C595.28 653.15 595.56 655.16 595.85 657.17C596.13 659.18 596.42 661.19 596.69 663.20C596.97 665.21 597.24 667.23 597.50 669.24C597.76 671.25 598.02 673.27 598.27 675.28C598.52 677.29 598.77 679.31 599.01 681.32C599.25 683.34 599.48 685.35 599.70 687.37C599.92 689.38 600.14 691.40 600.35 693.41C600.56 695.43 600.76 697.44 600.95 699.46C601.14 701.47 601.03 705.43 601.50 705.50C601.97 705.57 603.09 701.74 603.78 699.83C604.46 697.94 605.06 696.03 605.60 694.12C606.14 692.22 606.60 690.30 607.03 688.38C607.46 686.46 607.82 684.54 608.16 682.61C608.50 680.68 608.79 678.75 609.07 676.81C609.35 674.87 609.59 672.93 609.83 670.98C610.07 669.03 610.30 667.08 610.53 665.12C610.77 663.16 610.99 661.20 611.24 659.23C611.49 657.26 611.76 655.29 612.03 653.31C612.31 651.33 612.59 649.35 612.89 647.36C613.19 645.37 613.50 643.38 613.81 641.38C614.13 639.38 614.45 637.37 614.78 635.36C615.11 633.35 615.44 631.34 615.78 629.32C616.12 627.30 616.47 625.28 616.81 623.25C617.16 621.22 617.51 619.18 617.85 617.14C618.20 615.10 618.54 613.06 618.88 611.01C619.22 608.96 619.57 606.90 619.90 604.84C620.24 602.78 620.56 600.72 620.89 598.65C621.22 596.58 621.54 594.50 621.86 592.42C622.18 590.34 622.49 588.27 622.80 586.19C623.12 584.11 623.43 582.03 623.75 579.96C624.07 577.89 624.39 575.82 624.72 573.75C625.05 571.69 625.38 569.63 625.72 567.58C626.06 565.53 626.42 563.49 626.78 561.45C627.14 559.43 627.51 557.41 627.90 555.40C628.29 553.40 628.69 551.41 629.11 549.43C629.53 547.46 629.97 545.50 630.43 543.55C630.89 541.62 631.35 539.70 631.86 537.79C632.36 535.90 632.88 534.01 633.46 532.15C634.03 530.30 634.63 528.47 635.30 526.67C635.97 524.87 636.67 523.09 637.46 521.34C638.24 519.59 639.08 517.87 640.01 516.19C640.94 514.50 641.95 512.83 643.05 511.22C644.16 509.59 645.35 508.00 646.64 506.47C647.95 504.91 649.37 503.39 650.86 501.95C652.37 500.49 653.98 499.08 655.64 497.77C657.30 496.46 659.05 495.22 660.84 494.11C662.61 493.01 664.44 491.99 666.30 491.15C668.12 490.32 669.99 489.60 671.87 489.08C673.70 488.57 675.57 488.18 677.40 488.05C679.19 487.92 681.00 487.98 682.73 488.27C684.45 488.56 686.14 489.10 687.76 489.77C689.40 490.45 690.97 491.37 692.49 492.36C694.04 493.37 695.51 494.56 696.94 495.80C698.39 497.06 699.77 498.44 701.11 499.87C702.47 501.32 703.77 502.86 705.02 504.44C706.29 506.04 707.50 507.72 708.68 509.42C709.87 511.14 711.01 512.93 712.11 514.73C713.22 516.54 714.28 518.40 715.31 520.27C716.34 522.14 717.34 524.04 718.30 525.95C719.26 527.85 720.19 529.78 721.09 531.70C721.99 533.62 722.85 535.54 723.69 537.47C724.52 539.39 725.33 541.32 726.11 543.26C726.89 545.19 727.64 547.13 728.36 549.08C729.08 551.02 729.78 552.96 730.45 554.91C731.12 556.85 731.77 558.80 732.39 560.76C733.01 562.71 733.61 564.67 734.19 566.63C734.77 568.59 735.32 570.55 735.85 572.52C736.38 574.48 736.89 576.45 737.39 578.42C737.88 580.39 738.36 582.36 738.82 584.34C739.28 586.31 739.72 588.29 740.14 590.27C740.56 592.25 740.97 594.23 741.36 596.21C741.75 598.19 742.12 600.17 742.49 602.16C742.85 604.14 743.21 606.13 743.55 608.12C743.89 610.11 744.22 612.09 744.54 614.08C744.86 616.07 745.17 618.07 745.47 620.06C745.77 622.05 746.06 624.05 746.35 626.04C746.63 628.03 746.91 630.03 747.18 632.02C747.45 634.01 747.73 636.01 747.99 638.00C748.26 640.00 748.51 641.99 748.77 643.99C749.03 645.99 749.28 647.98 749.54 649.98C749.79 651.98 750.04 653.97 750.30 655.97C750.55 657.96 750.81 659.96 751.07 661.95C751.33 663.94 751.59 665.94 751.85 667.93C752.12 669.92 752.38 671.92 752.66 673.91C752.93 675.90 753.21 677.89 753.50 679.88C753.79 681.87 754.08 683.86 754.38 685.85C754.68 687.84 754.99 689.82 755.31 691.80C755.63 693.78 755.96 695.77 756.30 697.75C756.64 699.73 756.99 701.70 757.36 703.68C757.73 705.66 758.10 707.64 758.50 709.61C758.89 711.58 759.30 713.55 759.73 715.52C760.15 717.49 760.59 719.45 761.05 721.41C761.51 723.37 761.98 725.33 762.48 727.29C762.98 729.25 763.49 731.21 764.03 733.16C764.57 735.11 765.12 738.99 765.70 739.00C766.28 739.01 766.95 735.17 767.52 733.25C768.09 731.33 768.62 729.40 769.13 727.47C769.63 725.55 770.10 723.62 770.55 721.69C770.99 719.76 771.41 717.83 771.80 715.89C772.19 713.96 772.56 712.02 772.91 710.08C773.26 708.14 773.58 706.20 773.89 704.26C774.20 702.32 774.49 700.38 774.77 698.43C775.05 696.48 775.32 694.53 775.58 692.58C775.84 690.63 776.08 688.67 776.32 686.72C776.56 684.76 776.80 682.81 777.04 680.85C777.28 678.89 777.51 676.92 777.74 674.96C777.98 672.99 778.21 671.03 778.45 669.06C778.69 667.09 778.94 665.13 779.20 663.16C779.46 661.19 779.71 659.21 779.99 657.24C780.27 655.26 780.56 653.28 780.86 651.30C781.16 649.32 781.46 647.34 781.78 645.36C782.10 643.38 782.42 641.39 782.76 639.41C783.10 637.42 783.45 635.43 783.80 633.44C784.15 631.45 784.51 629.46 784.88 627.47C785.25 625.47 785.64 623.48 786.02 621.48C786.41 619.48 786.79 617.48 787.19 615.48C787.59 613.48 788.00 611.48 788.41 609.48C788.82 607.47 789.25 605.47 789.67 603.46C790.09 601.45 790.52 599.44 790.95 597.43C791.38 595.42 791.83 593.40 792.27 591.39C792.71 589.37 793.16 587.36 793.61 585.34C794.06 583.32 794.52 581.31 794.98 579.29C795.44 577.28 795.91 575.26 796.39 573.25C796.87 571.24 797.36 569.23 797.87 567.23C798.38 565.23 798.89 563.24 799.43 561.26C799.97 559.28 800.52 557.31 801.09 555.35C801.66 553.40 802.25 551.45 802.87 549.52C803.49 547.59 804.13 545.68 804.80 543.78C805.47 541.89 806.16 540.02 806.89 538.17C807.62 536.32 808.37 534.49 809.16 532.68C809.95 530.88 810.77 529.10 811.63 527.35C812.49 525.60 813.38 523.88 814.32 522.18C815.25 520.49 816.23 518.83 817.25 517.20C818.27 515.58 819.33 513.99 820.44 512.43C821.55 510.88 822.70 509.35 823.91 507.87C825.12 506.39 826.37 504.95 827.68 503.56C828.99 502.16 830.35 500.80 831.76 499.50C833.18 498.19 834.66 496.92 836.19 495.71C837.73 494.49 839.33 493.31 840.97 492.23C842.62 491.15 844.31 490.10 846.06 489.21C847.79 488.33 849.58 487.52 851.40 486.93C853.20 486.34 855.06 485.86 856.92 485.65C858.77 485.44 860.67 485.40 862.53 485.64C864.42 485.89 866.33 486.43 868.17 487.15C870.08 487.90 871.95 488.96 873.77 490.08C875.65 491.23 877.46 492.61 879.24 493.99C881.05 495.39 882.80 496.93 884.53 498.44C886.24 499.93 887.90 501.48 889.54 502.97C891.13 504.41 892.70 505.83 894.24 507.22C895.73 508.56 897.19 509.87 898.63 511.18C900.04 512.46 901.43 513.71 902.79 514.99C904.14 516.25 905.46 517.51 906.76 518.80C908.06 520.09 909.34 521.39 910.60 522.74C911.88 524.11 913.14 525.51 914.38 526.96C915.65 528.45 916.90 529.99 918.14 531.59C919.42 533.25 920.67 535.01 921.94 536.75C923.23 538.52 924.51 540.37 925.84 542.13C927.16 543.88 928.49 545.66 929.90 547.27C931.27 548.83 932.67 550.39 934.18 551.68C935.62 552.90 937.11 554.08 938.72 554.86C940.26 555.61 941.93 556.15 943.59 556.35C945.26 556.55 947.03 556.39 948.73 556.06C950.49 555.71 952.27 555.04 953.98 554.26C955.76 553.45 957.50 552.39 959.18 551.26C960.90 550.10 962.58 548.76 964.18 547.37C965.79 545.97 967.34 544.44 968.80 542.88C970.25 541.34 971.62 539.71 972.94 538.07C974.25 536.44 975.48 534.75 976.69 533.06C977.90 531.38 979.05 529.67 980.20 527.97C981.35 526.28 982.45 524.58 983.59 522.91C984.72 521.25 985.83 519.58 987.00 517.97C988.16 516.37 989.33 514.78 990.58 513.27C991.82 511.77 993.09 510.30 994.45 508.92C995.81 507.55 997.24 506.23 998.76 505.02C1000.29 503.81 1001.92 502.69 1003.60 501.67C1005.30 500.64 1007.08 499.72 1008.90 498.89C1010.74 498.05 1012.64 497.32 1014.57 496.68C1016.51 496.04 1018.50 495.50 1020.50 495.06C1022.51 494.62 1024.56 494.27 1026.60 494.03C1028.64 493.79 1030.70 493.65 1032.75 493.61C1034.79 493.57 1036.84 493.63 1038.86 493.80C1040.86 493.97 1042.86 494.23 1044.82 494.61C1046.76 494.98 1048.68 495.45 1050.54 496.04C1052.39 496.62 1054.19 497.32 1055.95 498.10C1057.70 498.88 1059.41 499.76 1061.06 500.72C1062.71 501.68 1064.31 502.74 1065.87 503.86C1067.43 504.99 1068.95 506.20 1070.42 507.46C1071.90 508.73 1073.33 510.07 1074.72 511.46C1076.12 512.86 1077.47 514.32 1078.79 515.81C1080.12 517.31 1081.40 518.87 1082.65 520.45C1083.91 522.04 1085.12 523.68 1086.31 525.34C1087.50 527.00 1088.66 528.69 1089.79 530.40C1090.93 532.11 1092.03 533.85 1093.12 535.60C1094.21 537.34 1095.27 539.11 1096.31 540.87C1097.35 542.63 1098.37 544.40 1099.37 546.17C1100.37 547.94 1101.35 549.71 1102.31 551.49C1103.27 553.26 1104.22 555.04 1105.15 556.83C1106.08 558.61 1106.98 560.40 1107.87 562.19C1108.76 563.98 1109.64 565.78 1110.50 567.58C1111.36 569.38 1112.19 571.17 1113.02 572.98C1113.85 574.78 1114.66 576.59 1115.46 578.41C1116.26 580.22 1117.03 582.05 1117.80 583.87C1118.57 585.69 1119.32 587.52 1120.06 589.35C1120.80 591.18 1121.53 593.02 1122.24 594.86C1122.95 596.70 1123.65 598.55 1124.34 600.40C1125.03 602.25 1125.70 604.11 1126.37 605.97C1127.04 607.83 1127.69 609.70 1128.34 611.57C1128.99 613.44 1129.62 615.31 1130.25 617.19C1130.88 619.07 1131.49 620.97 1132.10 622.86C1132.71 624.75 1133.31 626.65 1133.90 628.55C1134.49 630.46 1135.07 632.37 1135.65 634.28C1136.23 636.20 1136.80 638.12 1137.36 640.04C1137.93 641.97 1138.48 643.91 1139.04 645.84C1139.60 647.78 1140.14 649.72 1140.73 651.66C1141.32 653.60 1141.92 655.55 1142.59 657.47C1143.27 659.40 1143.97 661.33 1144.78 663.23C1145.59 665.14 1146.46 667.04 1147.45 668.90C1148.45 670.78 1149.53 672.69 1150.75 674.45C1151.97 676.20 1153.24 678.28 1154.76 679.45C1156.07 680.46 1157.70 681.47 1159.11 681.37C1160.55 681.27 1162.00 679.80 1163.29 678.74C1164.63 677.63 1165.83 676.21 1166.97 674.81C1168.14 673.38 1169.20 671.82 1170.22 670.22C1171.26 668.59 1172.20 666.87 1173.13 665.13C1174.07 663.36 1174.95 661.52 1175.82 659.67C1176.70 657.80 1177.54 655.89 1178.39 653.98C1179.25 652.06 1180.08 650.12 1180.95 648.20C1181.82 646.28 1182.68 644.35 1183.60 642.46C1184.51 640.59 1185.44 638.73 1186.44 636.92C1187.43 635.13 1188.47 633.38 1189.57 631.68C1190.66 630.00 1191.81 628.37 1193.00 626.78C1194.19 625.20 1195.43 623.67 1196.71 622.18C1197.99 620.70 1199.31 619.26 1200.67 617.86C1202.03 616.46 1203.43 615.11 1204.86 613.79C1206.29 612.47 1207.77 611.19 1209.27 609.94C1210.77 608.69 1212.30 607.47 1213.86 606.28C1215.42 605.09 1217.01 603.93 1218.61 602.79C1220.22 601.65 1221.85 600.54 1223.50 599.44C1225.15 598.34 1226.83 597.27 1228.51 596.21C1230.20 595.15 1231.90 594.10 1233.61 593.06C1235.32 592.02 1237.04 590.99 1238.77 589.97C1240.50 588.94 1242.25 587.93 1243.99 586.91C1245.73 585.89 1247.47 584.87 1249.21 583.85C1250.95 582.83 1252.68 581.81 1254.41 580.77C1256.13 579.74 1257.85 578.70 1259.56 577.64C1261.26 576.58 1262.95 575.52 1264.63 574.43C1266.30 573.34 1267.97 572.25 1269.60 571.12C1271.23 570.00 1272.84 568.85 1274.42 567.67C1276.00 566.50 1277.55 565.30 1279.07 564.07C1280.58 562.84 1282.07 561.57 1283.52 560.27C1284.96 558.97 1286.37 557.63 1287.75 556.27C1289.13 554.91 1290.48 553.51 1291.81 552.10C1293.14 550.69 1294.45 549.24 1295.75 547.80C1297.06 546.35 1298.35 544.88 1299.65 543.42C1300.96 541.95 1302.25 540.47 1303.57 539.01C1304.90 537.54 1306.23 536.07 1307.59 534.63C1308.96 533.18 1310.34 531.73 1311.77 530.32C1313.21 528.90 1314.67 527.49 1316.18 526.13C1317.71 524.76 1319.27 523.41 1320.89 522.12C1322.53 520.81 1324.23 519.54 1325.97 518.33C1327.73 517.11 1329.55 515.93 1331.40 514.83C1333.26 513.72 1335.17 512.67 1337.10 511.70C1339.03 510.73 1341.00 509.82 1342.99 509.01C1344.96 508.20 1346.96 507.47 1348.97 506.84C1350.95 506.22 1352.96 505.68 1354.96 505.27C1356.92 504.87 1358.89 504.55 1360.85 504.38C1362.77 504.21 1364.69 504.15 1366.58 504.24C1368.44 504.32 1370.28 504.55 1372.08 504.88C1373.87 505.21 1375.64 505.67 1377.37 506.22C1379.11 506.77 1380.82 507.44 1382.49 508.19C1384.17 508.94 1385.81 509.81 1387.43 510.72C1389.06 511.64 1390.67 512.65 1392.24 513.71C1393.83 514.78 1395.38 515.93 1396.92 517.11C1398.47 518.30 1400.00 519.55 1401.51 520.83C1403.03 522.12 1404.52 523.45 1406.01 524.80C1407.50 526.16 1408.98 527.55 1410.45 528.95C1411.93 530.35 1413.39 531.77 1414.85 533.20C1416.32 534.63 1417.78 536.09 1419.24 537.54C1420.70 538.99 1422.16 540.46 1423.62 541.92C1425.09 543.39 1426.55 544.87 1428.03 546.34C1429.51 547.81 1431.00 549.28 1432.49 550.74C1433.99 552.20 1435.48 553.67 1437.00 555.12C1438.52 556.57 1440.06 558.02 1441.61 559.44C1443.16 560.87 1444.73 562.29 1446.32 563.67C1447.91 565.05 1449.50 566.50 1451.15 567.74C1452.75 568.93 1454.36 570.19 1456.06 570.99C1457.64 571.74 1459.33 572.41 1460.97 572.48C1462.58 572.55 1464.26 572.09 1465.81 571.47C1467.45 570.81 1469.00 569.65 1470.51 568.54C1472.07 567.39 1473.54 566.02 1474.99 564.67C1476.45 563.32 1477.85 561.89 1479.23 560.44C1480.61 558.98 1481.95 557.46 1483.27 555.92C1484.59 554.38 1485.88 552.80 1487.15 551.20C1488.43 549.60 1489.68 547.96 1490.92 546.32C1492.16 544.68 1493.38 543.02 1494.61 541.37C1495.84 539.72 1497.05 538.06 1498.28 536.41C1499.50 534.77 1500.72 533.13 1501.96 531.51C1503.19 529.89 1504.42 528.28 1505.68 526.69C1506.93 525.11 1508.20 523.55 1509.49 522.01C1510.77 520.48 1512.07 518.97 1513.40 517.49C1514.72 516.02 1516.07 514.58 1517.45 513.17C1518.83 511.77 1520.23 510.39 1521.68 509.07C1523.12 507.75 1524.59 506.46 1526.11 505.23C1527.63 504.00 1529.18 502.81 1530.78 501.69C1532.38 500.56 1534.03 499.49 1535.72 498.48C1537.42 497.47 1539.17 496.51 1540.95 495.63C1542.74 494.74 1544.58 493.92 1546.45 493.18C1548.32 492.43 1550.23 491.76 1552.16 491.16C1554.09 490.56 1556.06 490.03 1558.03 489.59C1560.00 489.15 1561.99 488.80 1563.98 488.53C1565.97 488.26 1567.98 488.08 1569.98 487.99C1571.97 487.90 1573.96 487.90 1575.94 488.01C1577.91 488.12 1579.89 488.32 1581.83 488.63C1583.77 488.94 1585.70 489.35 1587.58 489.88C1589.46 490.41 1591.32 491.05 1593.13 491.79C1594.95 492.53 1596.73 493.39 1598.47 494.32C1600.23 495.25 1601.94 496.29 1603.63 497.37C1605.33 498.46 1606.99 499.64 1608.64 500.84C1610.30 502.05 1611.93 503.33 1613.55 504.62C1615.18 505.92 1616.78 507.26 1618.38 508.60C1619.98 509.94 1621.57 511.32 1623.16 512.68C1624.75 514.04 1626.34 515.40 1627.94 516.74C1629.53 518.07 1631.13 519.40 1632.74 520.68C1634.34 521.95 1635.95 523.22 1637.59 524.41C1639.22 525.59 1640.86 526.75 1642.54 527.80C1644.20 528.84 1645.87 529.87 1647.60 530.69C1649.28 531.49 1651.01 532.24 1652.76 532.70C1654.47 533.14 1656.24 533.44 1657.99 533.42C1659.75 533.40 1661.53 533.05 1663.27 532.56C1665.07 532.05 1666.84 531.24 1668.58 530.39C1670.38 529.51 1672.14 528.42 1673.89 527.33C1675.67 526.22 1677.43 524.97 1679.18 523.77C1680.94 522.56 1682.68 521.32 1684.43 520.09C1686.17 518.87 1687.90 517.64 1689.64 516.43C1691.37 515.22 1693.10 514.02 1694.83 512.83C1696.55 511.65 1698.27 510.48 1700.00 509.34C1701.72 508.21 1703.44 507.08 1705.18 506.00C1706.90 504.93 1708.64 503.88 1710.38 502.87C1712.11 501.87 1713.85 500.90 1715.60 499.98C1717.34 499.07 1719.09 498.19 1720.86 497.39C1722.62 496.59 1724.39 495.83 1726.18 495.17C1727.96 494.51 1729.75 493.91 1731.57 493.43C1733.37 492.95 1735.20 492.55 1737.04 492.29C1738.88 492.03 1740.75 491.87 1742.61 491.85C1744.49 491.83 1746.39 491.96 1748.27 492.19C1750.17 492.42 1752.08 492.80 1753.96 493.26C1755.87 493.73 1757.77 494.31 1759.65 494.98C1761.55 495.66 1763.43 496.44 1765.28 497.30C1767.15 498.17 1768.99 499.13 1770.79 500.16C1772.61 501.19 1774.40 502.31 1776.14 503.48C1777.89 504.66 1779.61 505.91 1781.27 507.21C1782.93 508.51 1784.55 509.87 1786.12 511.28C1787.68 512.68 1789.20 514.14 1790.65 515.63C1792.09 517.11 1793.48 518.64 1794.80 520.20C1796.11 521.74 1797.35 523.32 1798.54 524.93C1799.72 526.52 1800.84 528.14 1801.91 529.79C1802.98 531.43 1803.99 533.10 1804.97 534.79C1805.95 536.48 1806.88 538.19 1807.78 539.91C1808.68 541.63 1809.54 543.38 1810.39 545.13C1811.24 546.89 1812.06 548.67 1812.87 550.45C1813.68 552.24 1814.48 554.04 1815.27 555.85C1816.07 557.67 1816.85 559.49 1817.65 561.32C1818.45 563.16 1819.25 565.00 1820.07 566.85C1820.89 568.71 1821.72 570.57 1822.58 572.43C1823.45 574.30 1824.33 576.17 1825.25 578.04C1826.18 579.92 1827.13 581.81 1828.13 583.68C1829.14 585.57 1830.17 587.48 1831.27 589.32C1832.36 591.15 1833.48 593.01 1834.68 594.69C1835.83 596.30 1837.01 597.91 1838.30 599.22C1839.48 600.43 1840.72 601.63 1842.06 602.35C1843.27 603.00 1844.62 603.52 1845.90 603.52C1847.19 603.52 1848.55 603.01 1849.77 602.36C1851.12 601.64 1852.37 600.45 1853.58 599.25C1854.89 597.95 1856.11 596.35 1857.29 594.76C1858.53 593.09 1859.69 591.26 1860.83 589.45C1861.98 587.62 1863.07 585.73 1864.14 583.84C1865.21 581.96 1866.24 580.06 1867.24 578.15C1868.24 576.24 1869.20 574.32 1870.15 572.39C1871.10 570.47 1872.02 568.53 1872.93 566.60C1873.84 564.67 1874.73 562.74 1875.61 560.81C1876.49 558.89 1877.35 556.96 1878.22 555.05C1879.09 553.14 1879.96 551.24 1880.83 549.35C1881.70 547.47 1882.56 545.59 1883.45 543.73C1884.33 541.88 1885.22 540.04 1886.14 538.23C1887.05 536.43 1887.97 534.64 1888.93 532.88C1889.88 531.13 1890.85 529.40 1891.86 527.70C1892.87 526.01 1893.90 524.35 1894.98 522.73C1896.05 521.12 1897.16 519.53 1898.32 517.99C1899.47 516.46 1900.67 514.95 1901.92 513.51C1903.17 512.07 1904.48 510.67 1905.84 509.33C1907.20 507.99 1908.61 506.69 1910.09 505.47C1911.58 504.24 1913.13 503.06 1914.74 501.96C1916.36 500.85 1918.05 499.81 1919.78 498.84C1921.52 497.87 1923.32 496.97 1925.15 496.15C1926.99 495.33 1928.87 494.58 1930.78 493.93C1932.68 493.28 1934.63 492.70 1936.58 492.23C1938.53 491.76 1940.50 491.37 1942.48 491.09C1944.44 490.81 1946.43 490.62 1948.40 490.55C1950.35 490.48 1952.32 490.51 1954.25 490.67C1956.17 490.83 1958.09 491.09 1959.96 491.49C1961.82 491.88 1963.66 492.40 1965.44 493.04C1967.23 493.68 1968.98 494.46 1970.67 495.33C1972.37 496.21 1974.02 497.21 1975.63 498.28C1977.25 499.36 1978.83 500.55 1980.36 501.80C1981.91 503.06 1983.40 504.42 1984.85 505.82C1986.32 507.23 1987.73 508.73 1989.11 510.25C1990.51 511.79 1991.86 513.39 1993.18 515.01C1994.51 516.64 1995.78 518.32 1997.04 520.02C1998.30 521.72 1999.52 523.45 2000.72 525.19C2001.92 526.93 2003.08 528.69 2004.23 530.45C2005.38 532.20 2006.50 533.96 2007.63 535.71C2008.76 537.44 2009.88 539.18 2011.02 540.89C2012.16 542.58 2013.29 544.27 2014.47 545.91C2015.64 547.53 2016.82 549.14 2018.07 550.68C2019.31 552.21 2020.58 553.70 2021.92 555.12C2023.26 556.53 2024.64 557.89 2026.10 559.16C2027.56 560.42 2029.09 561.63 2030.70 562.71C2032.32 563.80 2034.02 564.81 2035.80 565.68C2037.62 566.57 2039.60 567.23 2041.50 568.00" stroke="#8c1530" stroke-width="6.5" stroke-linecap="round"/>
</g>
<path d="M203.30 34.80V1047.40M2041.50 34.80V1047.40" stroke="#262626" stroke-width="3.4" fill="none"/>
<path d="M201.60 34.80H2043.20" stroke="#262626" stroke-width="3.2" fill="none"/>
<path d="M201.60 1047.40H2043.20" stroke="#262626" stroke-width="2.6" fill="none"/>
<path d="M203.30 1047.40v-18.5M203.30 34.80v18.5M387.12 1047.40v-18.5M387.12 34.80v18.5M570.94 1047.40v-18.5M570.94 34.80v18.5M754.76 1047.40v-18.5M754.76 34.80v18.5M938.58 1047.40v-18.5M938.58 34.80v18.5M1122.40 1047.40v-18.5M1122.40 34.80v18.5M1306.22 1047.40v-18.5M1306.22 34.80v18.5M1490.04 1047.40v-18.5M1490.04 34.80v18.5M1673.86 1047.40v-18.5M1673.86 34.80v18.5M1857.68 1047.40v-18.5M1857.68 34.80v18.5M2041.50 1047.40v-18.5M2041.50 34.80v18.5M203.30 34.80h18.5M2041.50 34.80h-18.5M203.30 179.46h18.5M2041.50 179.46h-18.5M203.30 324.11h18.5M2041.50 324.11h-18.5M203.30 468.77h18.5M2041.50 468.77h-18.5M203.30 613.43h18.5M2041.50 613.43h-18.5M203.30 758.09h18.5M2041.50 758.09h-18.5M203.30 902.74h18.5M2041.50 902.74h-18.5M203.30 1047.40h18.5M2041.50 1047.40h-18.5" stroke="#262626" stroke-width="3.6" fill="none"/>
<text transform="translate(146.79,54.20) scale(0.5271,0.5200)" fill="#262626" >0</text>
<text transform="translate(95.16,198.86) scale(0.5606,0.5200)" fill="#262626" >-10</text>
<text transform="translate(95.16,343.51) scale(0.5606,0.5200)" fill="#262626" >-20</text>
<text transform="translate(95.16,488.17) scale(0.5606,0.5200)" fill="#262626" >-30</text>
<text transform="translate(95.16,632.83) scale(0.5606,0.5200)" fill="#262626" >-40</text>
<text transform="translate(95.16,777.49) scale(0.5606,0.5200)" fill="#262626" >-50</text>
<text transform="translate(95.16,922.14) scale(0.5606,0.5200)" fill="#262626" >-60</text>
<text transform="translate(95.16,1066.80) scale(0.5606,0.5200)" fill="#262626" >-70</text>
<text transform="translate(185.32,1120.00) scale(0.5688,0.5200)" fill="#262626" >0</text>
<text transform="translate(346.61,1120.00) scale(0.5526,0.5200)" fill="#262626" >0.1</text>
<text transform="translate(530.43,1120.00) scale(0.5526,0.5200)" fill="#262626" >0.2</text>
<text transform="translate(714.25,1120.00) scale(0.5526,0.5200)" fill="#262626" >0.3</text>
<text transform="translate(898.07,1120.00) scale(0.5526,0.5200)" fill="#262626" >0.4</text>
<text transform="translate(1081.89,1120.00) scale(0.5526,0.5200)" fill="#262626" >0.5</text>
<text transform="translate(1265.71,1120.00) scale(0.5526,0.5200)" fill="#262626" >0.6</text>
<text transform="translate(1449.53,1120.00) scale(0.5526,0.5200)" fill="#262626" >0.7</text>
<text transform="translate(1633.35,1120.00) scale(0.5526,0.5200)" fill="#262626" >0.8</text>
<text transform="translate(1817.17,1120.00) scale(0.5526,0.5200)" fill="#262626" >0.9</text>
<text transform="translate(2024.29,1120.00) scale(0.4512,0.5200)" fill="#262626" >1</text>
<text transform="translate(609.09,1196.30) scale(0.6264,0.5577)" fill="#262626" >Normalized Frequency(<tspan font-family="Liberation Serif, serif" font-style="italic">π</tspan> rad/sample)</text>
<text transform="translate(60.1,818.40) rotate(-90) scale(0.5748,0.6042)" fill="#262626">Normalized Gain (dB)</text>
<rect x="1276.4" y="75.3" width="721.3" height="272.1" fill="#fff" stroke="#262626" stroke-width="3"/>
<path d="M1292.7 115H1462.5" stroke="#b02020" stroke-width="2.6" stroke-dasharray="34.4 19.9" fill="none"/>
<path d="M1292.7 179.7H1462.5" stroke="#2210b8" stroke-width="7" stroke-dasharray="7 6.6" fill="none"/>
<path d="M1292.7 243.8H1462.5" stroke="#000" stroke-width="6" stroke-dasharray="27.6 6.5 13.6 6.6" fill="none"/>
<path d="M1292.7 308.5H1462.5" stroke="#8c1530" stroke-width="6.3" fill="none"/>
<text transform="translate(1475.55,132.20) scale(0.5066,0.4638)" fill="#000" >Pop. size 100</text>
<text transform="translate(1475.55,196.20) scale(0.5066,0.4522)" fill="#000" >Pop. size 300</text>
<text transform="translate(1475.04,261.70) scale(0.5067,0.4580)" fill="#000" >Initial x0 pop.size 300</text>
<text transform="translate(1475.04,326.00) scale(0.5064,0.4464)" fill="#000" >Initial x1 pop. size 300</text>
</svg>
</body></html>
